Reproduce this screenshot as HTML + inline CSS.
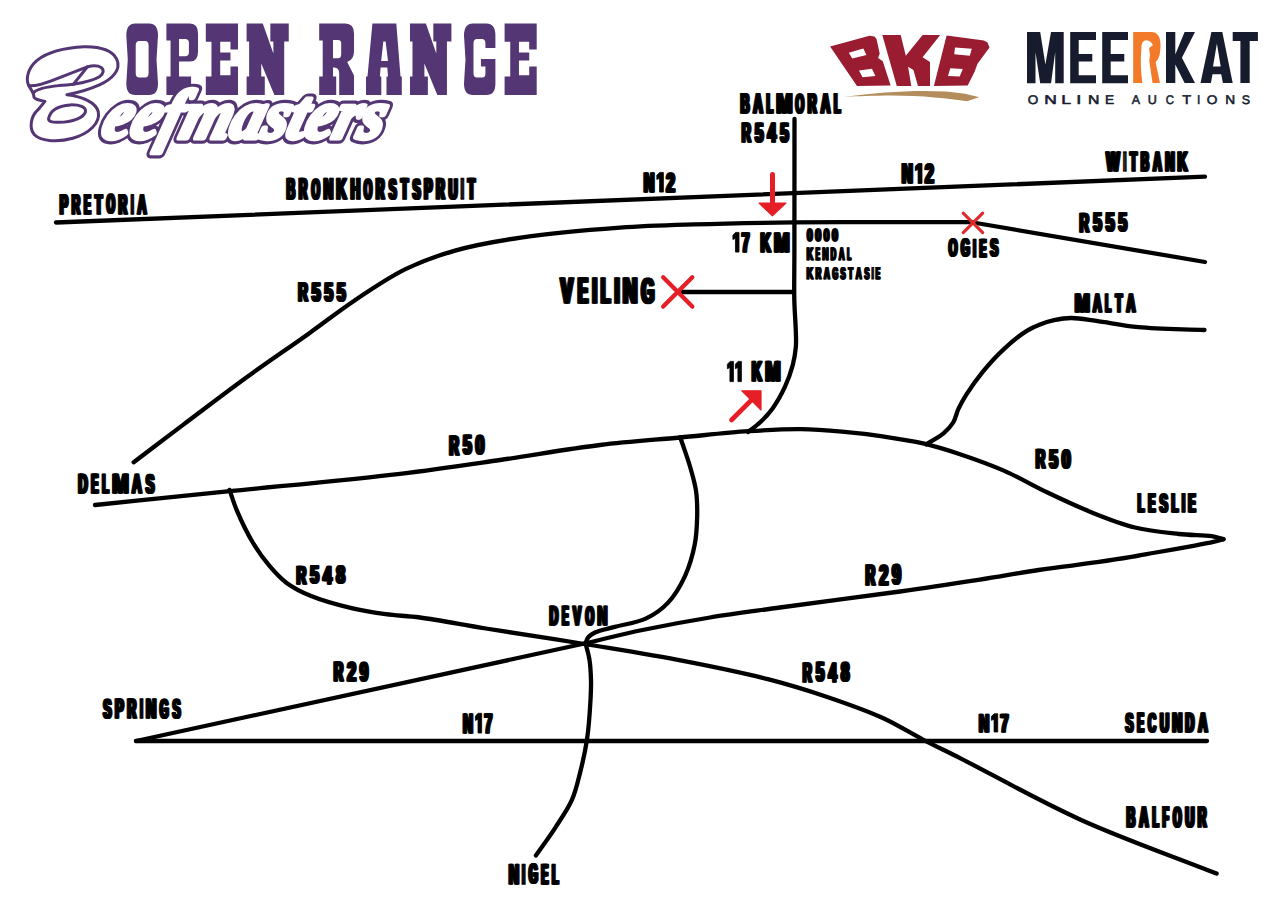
<!DOCTYPE html>
<html><head><meta charset="utf-8"><style>
html,body{margin:0;padding:0;background:#fff;width:1280px;height:905px;overflow:hidden}
svg{display:block}
text{text-rendering:geometricPrecision}
</style></head><body>
<svg width="1280" height="905" viewBox="0 0 1280 905">
<rect width="1280" height="905" fill="#fff"/>
<path fill="#533673" fill-rule="evenodd" transform="translate(126.30,23.50) scale(0.9906,1.0000)" d="M9,0 H23 Q32,0 32,12 L30.5,36 L32,60 Q32,71.5 23,71.5 H9 Q0,71.5 0,60 L1.5,36 L0,12 Q0,0 9,0 Z M13,17.5 H19 Q22.5,17.5 22.5,22 V49.5 Q22.5,54 19,54 H13 Q9.5,54 9.5,49.5 V22 Q9.5,17.5 13,17.5 Z"/>
<path fill="#533673" fill-rule="evenodd" transform="translate(166.40,23.50) scale(0.9875,1.0000)" d="M0,0 H24 Q32,0 32,10 V28 Q32,38 24,38 H12.8 V53 H25 V71.5 H0 V53 H4.2 V17 H0 Z M12.8,15.5 H19 Q22.8,15.5 22.8,19.5 V29 Q22.8,32.7 19,32.7 H12.8 Z"/>
<path fill="#533673" fill-rule="evenodd" transform="translate(205.80,23.50) scale(1.0288,1.0000)" d="M0,0 H31.3 V26 H24 V18.2 H14 V29 H24 V37 H14 V51.7 H24 V43 H31.3 V71.5 H0 V53 H5.5 V18.2 H0 Z"/>
<path fill="#533673" fill-rule="evenodd" transform="translate(246.60,23.50) scale(1.0108,1.0000)" d="M0,0 H16 L26.5,30 V18 H23.5 V0 H41.7 V18 H37.2 V71.5 H27.5 L14.5,40 V53 H18 V71.5 H0 V53 H2.5 V18 H0 Z"/>
<path fill="#533673" fill-rule="evenodd" transform="translate(319.20,23.50) scale(1.0000,1.0000)" d="M0,0 H26 Q34.8,0 34.8,10 V28 Q34.8,36 28,38.5 L34.8,52 V71.5 H20 V50 Q20,44 15,44 H13.8 V53 H17 V71.5 H0 V53 H3.5 V17 H0 Z M13.8,16.4 H19 Q22,16.4 22,20 V31 Q22,34.7 19,34.7 H13.8 Z"/>
<path fill="#533673" fill-rule="evenodd" transform="translate(366.00,23.50) scale(1.0000,1.0000)" d="M6.4,0 H30.3 L34.5,53 H35.8 V71.5 H20.5 V53 H22 L21.3,44 H14.6 L13.9,53 H15.3 V71.5 H0 V53 H1.5 Z M17.3,18 H19.6 L22,37.4 H15.2 Z"/>
<path fill="#533673" fill-rule="evenodd" transform="translate(410.00,23.50) scale(0.9928,1.0000)" d="M0,0 H16 L26.5,30 V18 H23.5 V0 H41.7 V18 H37.2 V71.5 H27.5 L14.5,40 V53 H18 V71.5 H0 V53 H2.5 V18 H0 Z"/>
<path fill="#533673" fill-rule="evenodd" transform="translate(464.00,23.50) scale(0.9968,1.0000)" d="M9,0 H22.5 Q31.5,0 31.5,12 V24.5 H21.5 V20 Q21.5,15.5 18,15.5 H13 Q9.5,15.5 9.5,20 V49.5 Q9.5,54 13,54 H18.5 Q21.5,54 21.5,50 V43 H17 V35.5 H31.5 V60 Q31.5,71.5 22.5,71.5 H9 Q0,71.5 0,60 L1.5,36 L0,12 Q0,0 9,0 Z"/>
<path fill="#533673" fill-rule="evenodd" transform="translate(504.60,23.50) scale(1.0256,1.0000)" d="M0,0 H31.3 V26 H24 V18.2 H14 V29 H24 V37 H14 V51.7 H24 V43 H31.3 V71.5 H0 V53 H5.5 V18.2 H0 Z"/>
<path fill="#fff" stroke="#533673" stroke-width="3.0" stroke-linejoin="round" d="M 28.64,85.50 C 25.74,79.12 27.48,68.68 36.76,60.56 C 47.20,52.44 64.60,47.80 84.32,46.87 C 99.41,46.64 112.17,50.12 116.81,59.40 C 121.45,69.84 112.17,79.12 99.41,84.92 C 88.97,89.56 76.20,93.04 66.92,94.78 C 82.00,96.52 95.93,102.32 98.25,111.61 C 100.57,123.21 88.97,133.65 72.72,138.29 C 58.80,142.35 41.40,141.77 34.44,134.81 C 28.64,127.85 30.96,116.25 37.81,109.98 L 45.00,101.40 C 37.92,100.00 33.86,98.84 33.86,96.52 C 33.86,93.04 30.96,89.56 28.64,85.50 Z"/>
<path fill="none" stroke="#533673" stroke-width="3.0" stroke-linejoin="round" stroke-linecap="round" d="M 73.30,84.34 L 87.23,66.94 C 93.61,65.20 98.25,65.78 101.15,67.52 C 104.05,69.84 104.05,73.32 99.41,76.80 C 93.61,80.28 84.32,82.60 73.30,84.34 Z"/>
<path fill="none" stroke="#533673" stroke-width="3.0" stroke-linejoin="round" stroke-linecap="round" d="M 48.59,118.57 C 50.10,110.45 57.64,105.81 70.40,104.88 C 79.68,104.65 86.06,106.97 85.48,111.61 C 84.32,117.41 72.72,122.05 58.80,122.28 C 51.84,122.51 48.36,121.47 48.59,118.57 Z"/>
<path fill="none" stroke="#533673" stroke-width="3.0" stroke-linejoin="round" stroke-linecap="round" d="M 29.22,85.85 C 35.60,86.08 47.20,82.60 57.06,78.54 C 70.40,73.32 79.68,69.84 87.23,66.94"/>
<path fill="none" stroke="#533673" stroke-width="3.0" stroke-linejoin="round" stroke-linecap="round" d="M 34.21,92.12 C 37.92,88.40 46.04,87.01 58.80,85.62 C 65.76,85.16 70.40,84.69 73.30,84.34"/>
<g transform="translate(0,136) skewX(-16) translate(0,-136)"><text x="100.15" y="138.16" font-size="69.02" textLength="280.87" lengthAdjust="spacingAndGlyphs" font-family='"Liberation Serif", serif' font-weight="bold" font-style="italic" fill="#533673" stroke="#533673" stroke-width="11.5" stroke-linejoin="round">eefmasters</text><text x="100.15" y="138.16" font-size="69.02" textLength="280.87" lengthAdjust="spacingAndGlyphs" font-family='"Liberation Serif", serif' font-weight="bold" font-style="italic" fill="#fff" stroke="#fff" stroke-width="5.1" stroke-linejoin="round">eefmasters</text></g>
<path fill="#991c31" fill-rule="evenodd" d="M830.1,46.4 L869.5,35.8 L874.5,36.5 L876.5,39.0 L879.7,53.4 L878.1,58.1 L882.8,61.3 L890.6,85.5 L857.0,85.9 Z M848.8,52.7 L863.3,48.4 L866.4,55.0 L852.3,58.5 Z M859.0,70.6 L871.9,68.7 L875.4,76.1 L862.5,77.3 Z M882.3,35.1 L900.7,35.1 L905.8,55.8 L922.6,35.1 L940.2,35.1 L922.6,57.3 L930.0,62.0 L930.0,85.9 L918.0,85.9 L913.4,70.0 L908.1,66.7 L911.3,85.9 L896.8,85.9 Z M946.6,35.5 L984.0,40.6 L987.5,42.5 L989.5,47.5 L977.5,63.7 L974.7,71.4 L967.7,85.5 L933.9,85.9 Z M955.0,47.6 L971.8,48.8 L969.8,55.8 L954.2,54.2 Z M950.3,68.3 L962.8,69.0 L959.7,76.5 L948.0,76.1 Z"/>
<path fill="#b48d5c" d="M843,97 C880,92 915,89.8 945,91.5 C962,92.8 973,95.2 979,97.3 L967,101.3 C948,98.5 920,95.2 885,95.6 C865,95.9 852,96.6 843,97 Z"/>
<path fill="#161c2e" fill-rule="evenodd" d="M1027.0,32.0 L1040.2,32.0 L1045.4,64.4 L1051.0,32.0 L1063.7,32.0 L1063.7,83.2 L1055.2,83.2 L1055.2,52.2 L1051.0,83.2 L1040.2,83.2 L1035.5,52.2 L1035.5,83.2 L1027.0,83.2 Z M1070.2,32.0 L1096.0,32.0 L1096.0,40.0 L1078.7,40.0 L1078.7,54.1 L1092.3,54.1 L1092.3,61.6 L1078.7,61.6 L1078.7,75.3 L1096.0,75.3 L1096.0,83.2 L1070.2,83.2 Z M1102.2,32.0 L1128.0,32.0 L1128.0,40.0 L1110.7,40.0 L1110.7,54.1 L1124.3,54.1 L1124.3,61.6 L1110.7,61.6 L1110.7,75.3 L1128.0,75.3 L1128.0,83.2 L1102.2,83.2 Z M1166.0,32.1 L1175.3,32.1 L1175.3,54.5 L1184.6,32.1 L1195.0,32.1 L1181.9,57.8 L1195.0,83.0 L1184.6,83.0 L1175.3,64.4 L1175.3,83.0 L1166.0,83.0 Z M1211.4,32.1 L1222.3,32.1 L1232.7,83.0 L1222.9,83.0 L1221.2,74.2 L1212.5,74.2 L1210.9,83.0 L1200.5,83.0 Z M1216.9,43.6 L1220.7,66.6 L1213.0,66.6 Z M1232.7,32.1 L1257.9,32.1 L1257.9,40.9 L1249.7,40.9 L1249.7,83.0 L1240.4,83.0 L1240.4,40.9 L1232.7,40.9 Z"/>
<path fill="#f27a28" d="M 1133.20,32.11 L 1151.25,32.11 Q 1160.55,32.11 1160.55,45.78 Q 1160.55,57.81 1155.62,62.19 L 1160.00,82.97 L 1151.25,82.97 L 1147.42,65.47 L 1142.50,65.47 L 1142.50,82.97 L 1133.20,82.97 Z"/>
<path fill="#fff" d="M 1141.41,47.97 Q 1141.41,40.31 1146.33,40.31 Q 1151.25,40.86 1152.89,45.23 L 1149.06,47.97 Q 1150.70,54.53 1149.28,61.09 L 1152.56,82.97 L 1142.50,82.97 Q 1139.77,66.56 1141.41,47.97 Z"/>
<text x="1027.67" y="104.20" font-size="12.46" textLength="10.50" lengthAdjust="spacingAndGlyphs" font-family='"Liberation Sans", sans-serif' font-weight="normal" font-style="normal" fill="#161c2e" stroke="#161c2e" stroke-width="0.55" stroke-linejoin="round">O</text>
<text x="1044.28" y="104.32" font-size="12.83" textLength="12.57" lengthAdjust="spacingAndGlyphs" font-family='"Liberation Sans", sans-serif' font-weight="normal" font-style="normal" fill="#161c2e" stroke="#161c2e" stroke-width="0.55" stroke-linejoin="round">N</text>
<text x="1061.16" y="104.32" font-size="12.83" textLength="9.81" lengthAdjust="spacingAndGlyphs" font-family='"Liberation Sans", sans-serif' font-weight="normal" font-style="normal" fill="#161c2e" stroke="#161c2e" stroke-width="0.55" stroke-linejoin="round">L</text>
<text x="1076.32" y="104.32" font-size="12.83" textLength="5.12" lengthAdjust="spacingAndGlyphs" font-family='"Liberation Sans", sans-serif' font-weight="normal" font-style="normal" fill="#161c2e" stroke="#161c2e" stroke-width="0.55" stroke-linejoin="round">I</text>
<text x="1088.01" y="104.32" font-size="12.83" textLength="11.41" lengthAdjust="spacingAndGlyphs" font-family='"Liberation Sans", sans-serif' font-weight="normal" font-style="normal" fill="#161c2e" stroke="#161c2e" stroke-width="0.55" stroke-linejoin="round">N</text>
<text x="1105.08" y="104.32" font-size="12.83" textLength="9.12" lengthAdjust="spacingAndGlyphs" font-family='"Liberation Sans", sans-serif' font-weight="normal" font-style="normal" fill="#161c2e" stroke="#161c2e" stroke-width="0.55" stroke-linejoin="round">E</text>
<text x="1131.81" y="104.32" font-size="12.83" textLength="8.24" lengthAdjust="spacingAndGlyphs" font-family='"Liberation Sans", sans-serif' font-weight="normal" font-style="normal" fill="#161c2e" stroke="#161c2e" stroke-width="0.55" stroke-linejoin="round">A</text>
<text x="1147.83" y="104.20" font-size="12.64" textLength="9.06" lengthAdjust="spacingAndGlyphs" font-family='"Liberation Sans", sans-serif' font-weight="normal" font-style="normal" fill="#161c2e" stroke="#161c2e" stroke-width="0.55" stroke-linejoin="round">U</text>
<text x="1165.71" y="104.20" font-size="12.46" textLength="8.20" lengthAdjust="spacingAndGlyphs" font-family='"Liberation Sans", sans-serif' font-weight="normal" font-style="normal" fill="#161c2e" stroke="#161c2e" stroke-width="0.55" stroke-linejoin="round">C</text>
<text x="1182.31" y="104.32" font-size="12.83" textLength="8.92" lengthAdjust="spacingAndGlyphs" font-family='"Liberation Sans", sans-serif' font-weight="normal" font-style="normal" fill="#161c2e" stroke="#161c2e" stroke-width="0.55" stroke-linejoin="round">T</text>
<text x="1196.89" y="104.32" font-size="12.83" textLength="3.36" lengthAdjust="spacingAndGlyphs" font-family='"Liberation Sans", sans-serif' font-weight="normal" font-style="normal" fill="#161c2e" stroke="#161c2e" stroke-width="0.55" stroke-linejoin="round">I</text>
<text x="1206.66" y="104.20" font-size="12.46" textLength="10.62" lengthAdjust="spacingAndGlyphs" font-family='"Liberation Sans", sans-serif' font-weight="normal" font-style="normal" fill="#161c2e" stroke="#161c2e" stroke-width="0.55" stroke-linejoin="round">O</text>
<text x="1225.38" y="104.32" font-size="12.83" textLength="9.87" lengthAdjust="spacingAndGlyphs" font-family='"Liberation Sans", sans-serif' font-weight="normal" font-style="normal" fill="#161c2e" stroke="#161c2e" stroke-width="0.55" stroke-linejoin="round">N</text>
<text x="1241.72" y="104.20" font-size="12.46" textLength="8.29" lengthAdjust="spacingAndGlyphs" font-family='"Liberation Sans", sans-serif' font-weight="normal" font-style="normal" fill="#161c2e" stroke="#161c2e" stroke-width="0.55" stroke-linejoin="round">S</text>
<path d="M56,222.5 L1205,176.7" fill="none" stroke="#000" stroke-width="4.3" stroke-linecap="round" stroke-linejoin="round"/>
<path d="M133.7,462.3 C150.1,449.8 165.5,438.1 183.0,424.9 C202.7,410.1 224.9,393.0 246.0,377.7 C266.9,362.5 289.7,347.2 309.0,333.4 C325.6,321.6 339.1,310.8 355.0,300.2 C371.1,289.4 387.9,277.8 405.0,269.4 C421.3,261.4 436.9,255.8 455.0,250.6 C475.6,244.7 497.8,240.9 522.5,237.3 C551.9,232.9 589.7,229.8 620.0,227.6 C646.3,225.7 667.3,225.2 693.8,224.4 C724.5,223.4 759.0,222.8 793.8,222.4 C831.6,222.0 879.7,222.2 912.5,222.2 C935.7,222.2 952.2,222.2 972.0,222.2" fill="none" stroke="#000" stroke-width="4.3" stroke-linecap="round" stroke-linejoin="round"/>
<path d="M973,222.5 L1205,262" fill="none" stroke="#000" stroke-width="4.3" stroke-linecap="round" stroke-linejoin="round"/>
<path d="M794.5,119.0 C794.5,162.7 794.4,216.6 794.4,250.0 C794.4,270.6 794.0,285.3 794.3,300.0 C794.6,311.6 795.6,322.5 795.8,331.0 C796.0,337.0 796.3,341.0 795.9,346.4 C795.4,352.3 794.4,358.6 792.8,365.0 C790.9,372.0 788.3,379.6 785.0,386.7 C781.6,394.1 777.1,402.2 772.6,408.4 C768.7,413.8 764.5,418.2 760.2,422.3 C756.3,426.0 752.1,428.8 748.0,432.0" fill="none" stroke="#000" stroke-width="4.3" stroke-linecap="round" stroke-linejoin="round"/>
<path d="M680,292 L794,292" fill="none" stroke="#000" stroke-width="4.3" stroke-linecap="round" stroke-linejoin="round"/>
<path d="M95.0,505.0 C140.0,500.4 182.4,496.1 230.0,491.2 C283.4,485.8 350.9,479.7 400.0,473.8 C437.8,469.2 466.7,464.8 500.0,460.0 C533.3,455.2 568.5,448.8 600.0,445.0 C628.1,441.6 654.4,439.9 680.0,437.5 C703.7,435.3 727.1,432.6 748.4,431.2 C767.1,430.0 784.8,429.0 801.2,429.2 C815.7,429.4 828.4,430.5 841.9,431.7 C855.5,432.9 869.0,434.4 882.5,436.3 C896.1,438.3 910.0,440.3 923.1,443.4 C935.8,446.4 947.3,450.0 960.0,454.2 C974.0,458.9 989.3,464.3 1003.8,470.6 C1018.5,477.0 1032.8,485.5 1047.5,492.5 C1062.0,499.4 1076.5,506.3 1091.2,512.2 C1105.7,518.0 1120.2,523.9 1135.0,527.5 C1149.4,531.1 1165.2,532.5 1178.8,534.0 C1190.5,535.3 1203.4,535.0 1211.6,536.2 C1216.6,537.0 1219.5,538.1 1223.5,539.0" fill="none" stroke="#000" stroke-width="4.3" stroke-linecap="round" stroke-linejoin="round"/>
<path d="M1223.5,539.3 C1220.5,540.1 1218.0,540.9 1214.4,541.7 C1209.1,542.9 1202.5,544.2 1194.8,545.6 C1184.0,547.6 1167.5,550.4 1155.8,552.5 C1146.3,554.2 1139.1,555.7 1130.0,557.2 C1119.7,558.9 1109.7,560.4 1097.2,562.2 C1080.5,564.6 1058.1,567.1 1038.6,570.0 C1019.0,572.9 1001.1,576.3 980.0,579.6 C955.4,583.4 929.4,587.4 900.0,591.5 C864.1,596.6 814.6,602.7 780.0,607.5 C753.5,611.2 733.1,613.7 710.0,617.5 C687.3,621.2 664.1,625.5 642.5,630.0 C622.4,634.2 603.8,639.0 584.5,643.5" fill="none" stroke="#000" stroke-width="4.3" stroke-linecap="round" stroke-linejoin="round"/>
<path d="M584.5,643.5 L136,741" fill="none" stroke="#000" stroke-width="4.3" stroke-linecap="round" stroke-linejoin="round"/>
<path d="M229.6,489.9 C231.9,496.5 233.5,502.4 236.6,509.8 C240.7,519.6 247.2,533.1 253.1,543.0 C258.3,551.7 263.9,559.3 269.7,566.2 C275.0,572.4 279.8,577.9 286.3,582.7 C293.4,588.0 301.5,592.1 311.1,596.0 C323.0,600.9 339.5,605.3 352.6,608.4 C364.2,611.1 374.5,612.7 385.7,614.2 C397.0,615.7 406.8,615.8 420.0,617.5 C438.4,619.9 461.7,624.6 485.9,628.5 C515.5,633.3 551.5,638.6 584.5,644.0 C617.7,649.5 652.6,654.9 684.4,661.1 C713.8,666.8 743.6,672.9 768.8,679.4 C789.5,684.8 806.4,690.0 825.0,696.2 C843.9,702.6 864.1,709.5 881.2,717.3 C896.6,724.2 909.8,732.8 923.4,739.8 C936.0,746.3 944.3,750.2 960.0,758.1 C988.6,772.5 1038.7,800.8 1080.6,819.7 C1124.1,839.4 1171.3,855.6 1216.6,873.6" fill="none" stroke="#000" stroke-width="4.3" stroke-linecap="round" stroke-linejoin="round"/>
<path d="M136,741 L1207,741" fill="none" stroke="#000" stroke-width="4.3" stroke-linecap="round" stroke-linejoin="round"/>
<path d="M680.2,437.3 C683.5,447.0 687.3,457.2 690.0,466.5 C692.4,474.9 694.8,482.6 696.0,490.8 C697.2,498.8 697.3,506.6 697.2,515.1 C697.0,524.4 696.7,534.4 694.8,544.2 C692.8,554.6 689.6,566.0 685.1,575.8 C680.7,585.4 674.9,595.3 668.1,602.6 C661.8,609.3 654.6,614.4 646.2,618.4 C637.0,622.8 623.9,624.3 614.6,626.9 C607.3,628.9 599.7,630.3 595.0,632.5 C592.1,633.9 590.1,635.2 588.5,637.0 C587.0,638.7 586.5,641.0 585.5,643.0" fill="none" stroke="#000" stroke-width="4.3" stroke-linecap="round" stroke-linejoin="round"/>
<path d="M585.5,643.0 C586.8,648.7 588.6,654.1 589.5,660.0 C590.5,666.4 590.8,673.3 591.0,680.0 C591.2,686.7 590.9,692.2 590.5,700.0 C589.9,710.9 588.9,726.9 587.0,739.4 C585.3,751.0 582.8,762.1 580.1,772.6 C577.6,782.3 575.8,791.2 571.8,800.2 C567.6,809.7 561.1,818.7 555.2,827.8 C549.2,837.1 542.3,846.2 535.9,855.4" fill="none" stroke="#000" stroke-width="4.3" stroke-linecap="round" stroke-linejoin="round"/>
<path d="M926.2,444.4 C932.1,440.7 939.0,437.3 943.8,433.2 C947.8,429.7 951.1,426.1 953.5,422.0 C955.8,418.1 956.3,413.5 958.3,409.2 C960.5,404.4 963.0,400.0 966.3,394.7 C970.6,387.9 976.2,379.7 982.3,372.3 C988.9,364.2 996.9,355.4 1004.7,348.3 C1011.9,341.6 1020.5,334.7 1027.2,330.6 C1031.9,327.7 1035.6,326.2 1040.0,324.5 C1044.5,322.7 1049.1,321.3 1054.1,320.2 C1059.4,319.1 1064.7,318.1 1070.9,318.0 C1078.5,317.9 1086.7,319.6 1096.2,320.9 C1108.5,322.5 1122.7,325.7 1138.4,327.2 C1157.9,329.1 1182.5,329.1 1204.5,330.0" fill="none" stroke="#000" stroke-width="4.3" stroke-linecap="round" stroke-linejoin="round"/>
<g transform="translate(-1.09,0)"><text x="59.85" y="213.70" font-size="27.75" textLength="8.10" lengthAdjust="spacingAndGlyphs" font-family='"Liberation Sans", sans-serif' font-weight="bold" font-style="normal" fill="#000" stroke="#000" stroke-width="1.6" stroke-linejoin="round">P</text></g><text x="59.85" y="213.70" font-size="27.75" textLength="8.10" lengthAdjust="spacingAndGlyphs" font-family='"Liberation Sans", sans-serif' font-weight="bold" font-style="normal" fill="#000" stroke="#000" stroke-width="1.6" stroke-linejoin="round">P</text><g transform="translate(1.09,0)"><text x="59.85" y="213.70" font-size="27.75" textLength="8.10" lengthAdjust="spacingAndGlyphs" font-family='"Liberation Sans", sans-serif' font-weight="bold" font-style="normal" fill="#000" stroke="#000" stroke-width="1.6" stroke-linejoin="round">P</text></g><g transform="translate(-1.09,0)"><text x="71.73" y="213.70" font-size="27.75" textLength="8.40" lengthAdjust="spacingAndGlyphs" font-family='"Liberation Sans", sans-serif' font-weight="bold" font-style="normal" fill="#000" stroke="#000" stroke-width="1.6" stroke-linejoin="round">R</text></g><text x="71.73" y="213.70" font-size="27.75" textLength="8.40" lengthAdjust="spacingAndGlyphs" font-family='"Liberation Sans", sans-serif' font-weight="bold" font-style="normal" fill="#000" stroke="#000" stroke-width="1.6" stroke-linejoin="round">R</text><g transform="translate(1.09,0)"><text x="71.73" y="213.70" font-size="27.75" textLength="8.40" lengthAdjust="spacingAndGlyphs" font-family='"Liberation Sans", sans-serif' font-weight="bold" font-style="normal" fill="#000" stroke="#000" stroke-width="1.6" stroke-linejoin="round">R</text></g><g transform="translate(-1.09,0)"><text x="84.17" y="213.70" font-size="27.75" textLength="6.52" lengthAdjust="spacingAndGlyphs" font-family='"Liberation Sans", sans-serif' font-weight="bold" font-style="normal" fill="#000" stroke="#000" stroke-width="1.6" stroke-linejoin="round">E</text></g><text x="84.17" y="213.70" font-size="27.75" textLength="6.52" lengthAdjust="spacingAndGlyphs" font-family='"Liberation Sans", sans-serif' font-weight="bold" font-style="normal" fill="#000" stroke="#000" stroke-width="1.6" stroke-linejoin="round">E</text><g transform="translate(1.09,0)"><text x="84.17" y="213.70" font-size="27.75" textLength="6.52" lengthAdjust="spacingAndGlyphs" font-family='"Liberation Sans", sans-serif' font-weight="bold" font-style="normal" fill="#000" stroke="#000" stroke-width="1.6" stroke-linejoin="round">E</text></g><g transform="translate(-1.09,0)"><text x="95.15" y="213.70" font-size="27.75" textLength="7.16" lengthAdjust="spacingAndGlyphs" font-family='"Liberation Sans", sans-serif' font-weight="bold" font-style="normal" fill="#000" stroke="#000" stroke-width="1.6" stroke-linejoin="round">T</text></g><text x="95.15" y="213.70" font-size="27.75" textLength="7.16" lengthAdjust="spacingAndGlyphs" font-family='"Liberation Sans", sans-serif' font-weight="bold" font-style="normal" fill="#000" stroke="#000" stroke-width="1.6" stroke-linejoin="round">T</text><g transform="translate(1.09,0)"><text x="95.15" y="213.70" font-size="27.75" textLength="7.16" lengthAdjust="spacingAndGlyphs" font-family='"Liberation Sans", sans-serif' font-weight="bold" font-style="normal" fill="#000" stroke="#000" stroke-width="1.6" stroke-linejoin="round">T</text></g><g transform="translate(-1.09,0)"><text x="106.70" y="213.43" font-size="26.97" textLength="8.26" lengthAdjust="spacingAndGlyphs" font-family='"Liberation Sans", sans-serif' font-weight="bold" font-style="normal" fill="#000" stroke="#000" stroke-width="1.6" stroke-linejoin="round">O</text></g><text x="106.70" y="213.43" font-size="26.97" textLength="8.26" lengthAdjust="spacingAndGlyphs" font-family='"Liberation Sans", sans-serif' font-weight="bold" font-style="normal" fill="#000" stroke="#000" stroke-width="1.6" stroke-linejoin="round">O</text><g transform="translate(1.09,0)"><text x="106.70" y="213.43" font-size="26.97" textLength="8.26" lengthAdjust="spacingAndGlyphs" font-family='"Liberation Sans", sans-serif' font-weight="bold" font-style="normal" fill="#000" stroke="#000" stroke-width="1.6" stroke-linejoin="round">O</text></g><g transform="translate(-1.09,0)"><text x="118.68" y="213.70" font-size="27.75" textLength="8.40" lengthAdjust="spacingAndGlyphs" font-family='"Liberation Sans", sans-serif' font-weight="bold" font-style="normal" fill="#000" stroke="#000" stroke-width="1.6" stroke-linejoin="round">R</text></g><text x="118.68" y="213.70" font-size="27.75" textLength="8.40" lengthAdjust="spacingAndGlyphs" font-family='"Liberation Sans", sans-serif' font-weight="bold" font-style="normal" fill="#000" stroke="#000" stroke-width="1.6" stroke-linejoin="round">R</text><g transform="translate(1.09,0)"><text x="118.68" y="213.70" font-size="27.75" textLength="8.40" lengthAdjust="spacingAndGlyphs" font-family='"Liberation Sans", sans-serif' font-weight="bold" font-style="normal" fill="#000" stroke="#000" stroke-width="1.6" stroke-linejoin="round">R</text></g><g transform="translate(-1.09,0)"><text x="131.26" y="213.70" font-size="27.75" textLength="2.12" lengthAdjust="spacingAndGlyphs" font-family='"Liberation Sans", sans-serif' font-weight="bold" font-style="normal" fill="#000" stroke="#000" stroke-width="1.6" stroke-linejoin="round">I</text></g><text x="131.26" y="213.70" font-size="27.75" textLength="2.12" lengthAdjust="spacingAndGlyphs" font-family='"Liberation Sans", sans-serif' font-weight="bold" font-style="normal" fill="#000" stroke="#000" stroke-width="1.6" stroke-linejoin="round">I</text><g transform="translate(1.09,0)"><text x="131.26" y="213.70" font-size="27.75" textLength="2.12" lengthAdjust="spacingAndGlyphs" font-family='"Liberation Sans", sans-serif' font-weight="bold" font-style="normal" fill="#000" stroke="#000" stroke-width="1.6" stroke-linejoin="round">I</text></g><g transform="translate(-1.09,0)"><text x="137.49" y="213.70" font-size="27.75" textLength="8.96" lengthAdjust="spacingAndGlyphs" font-family='"Liberation Sans", sans-serif' font-weight="bold" font-style="normal" fill="#000" stroke="#000" stroke-width="1.6" stroke-linejoin="round">A</text></g><text x="137.49" y="213.70" font-size="27.75" textLength="8.96" lengthAdjust="spacingAndGlyphs" font-family='"Liberation Sans", sans-serif' font-weight="bold" font-style="normal" fill="#000" stroke="#000" stroke-width="1.6" stroke-linejoin="round">A</text><g transform="translate(1.09,0)"><text x="137.49" y="213.70" font-size="27.75" textLength="8.96" lengthAdjust="spacingAndGlyphs" font-family='"Liberation Sans", sans-serif' font-weight="bold" font-style="normal" fill="#000" stroke="#000" stroke-width="1.6" stroke-linejoin="round">A</text></g>
<g transform="translate(-1.15,0)"><text x="286.69" y="199.20" font-size="29.57" textLength="8.42" lengthAdjust="spacingAndGlyphs" font-family='"Liberation Sans", sans-serif' font-weight="bold" font-style="normal" fill="#000" stroke="#000" stroke-width="1.6" stroke-linejoin="round">B</text></g><text x="286.69" y="199.20" font-size="29.57" textLength="8.42" lengthAdjust="spacingAndGlyphs" font-family='"Liberation Sans", sans-serif' font-weight="bold" font-style="normal" fill="#000" stroke="#000" stroke-width="1.6" stroke-linejoin="round">B</text><g transform="translate(1.15,0)"><text x="286.69" y="199.20" font-size="29.57" textLength="8.42" lengthAdjust="spacingAndGlyphs" font-family='"Liberation Sans", sans-serif' font-weight="bold" font-style="normal" fill="#000" stroke="#000" stroke-width="1.6" stroke-linejoin="round">B</text></g><g transform="translate(-1.15,0)"><text x="298.89" y="199.20" font-size="29.57" textLength="8.35" lengthAdjust="spacingAndGlyphs" font-family='"Liberation Sans", sans-serif' font-weight="bold" font-style="normal" fill="#000" stroke="#000" stroke-width="1.6" stroke-linejoin="round">R</text></g><text x="298.89" y="199.20" font-size="29.57" textLength="8.35" lengthAdjust="spacingAndGlyphs" font-family='"Liberation Sans", sans-serif' font-weight="bold" font-style="normal" fill="#000" stroke="#000" stroke-width="1.6" stroke-linejoin="round">R</text><g transform="translate(1.15,0)"><text x="298.89" y="199.20" font-size="29.57" textLength="8.35" lengthAdjust="spacingAndGlyphs" font-family='"Liberation Sans", sans-serif' font-weight="bold" font-style="normal" fill="#000" stroke="#000" stroke-width="1.6" stroke-linejoin="round">R</text></g><g transform="translate(-1.15,0)"><text x="311.64" y="198.91" font-size="28.73" textLength="8.22" lengthAdjust="spacingAndGlyphs" font-family='"Liberation Sans", sans-serif' font-weight="bold" font-style="normal" fill="#000" stroke="#000" stroke-width="1.6" stroke-linejoin="round">O</text></g><text x="311.64" y="198.91" font-size="28.73" textLength="8.22" lengthAdjust="spacingAndGlyphs" font-family='"Liberation Sans", sans-serif' font-weight="bold" font-style="normal" fill="#000" stroke="#000" stroke-width="1.6" stroke-linejoin="round">O</text><g transform="translate(1.15,0)"><text x="311.64" y="198.91" font-size="28.73" textLength="8.22" lengthAdjust="spacingAndGlyphs" font-family='"Liberation Sans", sans-serif' font-weight="bold" font-style="normal" fill="#000" stroke="#000" stroke-width="1.6" stroke-linejoin="round">O</text></g><g transform="translate(-1.15,0)"><text x="323.62" y="199.20" font-size="29.57" textLength="9.56" lengthAdjust="spacingAndGlyphs" font-family='"Liberation Sans", sans-serif' font-weight="bold" font-style="normal" fill="#000" stroke="#000" stroke-width="1.6" stroke-linejoin="round">N</text></g><text x="323.62" y="199.20" font-size="29.57" textLength="9.56" lengthAdjust="spacingAndGlyphs" font-family='"Liberation Sans", sans-serif' font-weight="bold" font-style="normal" fill="#000" stroke="#000" stroke-width="1.6" stroke-linejoin="round">N</text><g transform="translate(1.15,0)"><text x="323.62" y="199.20" font-size="29.57" textLength="9.56" lengthAdjust="spacingAndGlyphs" font-family='"Liberation Sans", sans-serif' font-weight="bold" font-style="normal" fill="#000" stroke="#000" stroke-width="1.6" stroke-linejoin="round">N</text></g><g transform="translate(-1.15,0)"><text x="336.47" y="199.20" font-size="29.57" textLength="10.06" lengthAdjust="spacingAndGlyphs" font-family='"Liberation Sans", sans-serif' font-weight="bold" font-style="normal" fill="#000" stroke="#000" stroke-width="1.6" stroke-linejoin="round">K</text></g><text x="336.47" y="199.20" font-size="29.57" textLength="10.06" lengthAdjust="spacingAndGlyphs" font-family='"Liberation Sans", sans-serif' font-weight="bold" font-style="normal" fill="#000" stroke="#000" stroke-width="1.6" stroke-linejoin="round">K</text><g transform="translate(1.15,0)"><text x="336.47" y="199.20" font-size="29.57" textLength="10.06" lengthAdjust="spacingAndGlyphs" font-family='"Liberation Sans", sans-serif' font-weight="bold" font-style="normal" fill="#000" stroke="#000" stroke-width="1.6" stroke-linejoin="round">K</text></g><g transform="translate(-1.15,0)"><text x="350.58" y="199.20" font-size="29.57" textLength="9.56" lengthAdjust="spacingAndGlyphs" font-family='"Liberation Sans", sans-serif' font-weight="bold" font-style="normal" fill="#000" stroke="#000" stroke-width="1.6" stroke-linejoin="round">H</text></g><text x="350.58" y="199.20" font-size="29.57" textLength="9.56" lengthAdjust="spacingAndGlyphs" font-family='"Liberation Sans", sans-serif' font-weight="bold" font-style="normal" fill="#000" stroke="#000" stroke-width="1.6" stroke-linejoin="round">H</text><g transform="translate(1.15,0)"><text x="350.58" y="199.20" font-size="29.57" textLength="9.56" lengthAdjust="spacingAndGlyphs" font-family='"Liberation Sans", sans-serif' font-weight="bold" font-style="normal" fill="#000" stroke="#000" stroke-width="1.6" stroke-linejoin="round">H</text></g><g transform="translate(-1.15,0)"><text x="363.90" y="198.91" font-size="28.73" textLength="8.22" lengthAdjust="spacingAndGlyphs" font-family='"Liberation Sans", sans-serif' font-weight="bold" font-style="normal" fill="#000" stroke="#000" stroke-width="1.6" stroke-linejoin="round">O</text></g><text x="363.90" y="198.91" font-size="28.73" textLength="8.22" lengthAdjust="spacingAndGlyphs" font-family='"Liberation Sans", sans-serif' font-weight="bold" font-style="normal" fill="#000" stroke="#000" stroke-width="1.6" stroke-linejoin="round">O</text><g transform="translate(1.15,0)"><text x="363.90" y="198.91" font-size="28.73" textLength="8.22" lengthAdjust="spacingAndGlyphs" font-family='"Liberation Sans", sans-serif' font-weight="bold" font-style="normal" fill="#000" stroke="#000" stroke-width="1.6" stroke-linejoin="round">O</text></g><g transform="translate(-1.15,0)"><text x="376.00" y="199.20" font-size="29.57" textLength="8.35" lengthAdjust="spacingAndGlyphs" font-family='"Liberation Sans", sans-serif' font-weight="bold" font-style="normal" fill="#000" stroke="#000" stroke-width="1.6" stroke-linejoin="round">R</text></g><text x="376.00" y="199.20" font-size="29.57" textLength="8.35" lengthAdjust="spacingAndGlyphs" font-family='"Liberation Sans", sans-serif' font-weight="bold" font-style="normal" fill="#000" stroke="#000" stroke-width="1.6" stroke-linejoin="round">R</text><g transform="translate(1.15,0)"><text x="376.00" y="199.20" font-size="29.57" textLength="8.35" lengthAdjust="spacingAndGlyphs" font-family='"Liberation Sans", sans-serif' font-weight="bold" font-style="normal" fill="#000" stroke="#000" stroke-width="1.6" stroke-linejoin="round">R</text></g><g transform="translate(-1.15,0)"><text x="388.83" y="198.91" font-size="28.73" textLength="7.64" lengthAdjust="spacingAndGlyphs" font-family='"Liberation Sans", sans-serif' font-weight="bold" font-style="normal" fill="#000" stroke="#000" stroke-width="1.6" stroke-linejoin="round">S</text></g><text x="388.83" y="198.91" font-size="28.73" textLength="7.64" lengthAdjust="spacingAndGlyphs" font-family='"Liberation Sans", sans-serif' font-weight="bold" font-style="normal" fill="#000" stroke="#000" stroke-width="1.6" stroke-linejoin="round">S</text><g transform="translate(1.15,0)"><text x="388.83" y="198.91" font-size="28.73" textLength="7.64" lengthAdjust="spacingAndGlyphs" font-family='"Liberation Sans", sans-serif' font-weight="bold" font-style="normal" fill="#000" stroke="#000" stroke-width="1.6" stroke-linejoin="round">S</text></g><g transform="translate(-1.15,0)"><text x="401.01" y="199.20" font-size="29.57" textLength="7.12" lengthAdjust="spacingAndGlyphs" font-family='"Liberation Sans", sans-serif' font-weight="bold" font-style="normal" fill="#000" stroke="#000" stroke-width="1.6" stroke-linejoin="round">T</text></g><text x="401.01" y="199.20" font-size="29.57" textLength="7.12" lengthAdjust="spacingAndGlyphs" font-family='"Liberation Sans", sans-serif' font-weight="bold" font-style="normal" fill="#000" stroke="#000" stroke-width="1.6" stroke-linejoin="round">T</text><g transform="translate(1.15,0)"><text x="401.01" y="199.20" font-size="29.57" textLength="7.12" lengthAdjust="spacingAndGlyphs" font-family='"Liberation Sans", sans-serif' font-weight="bold" font-style="normal" fill="#000" stroke="#000" stroke-width="1.6" stroke-linejoin="round">T</text></g><g transform="translate(-1.15,0)"><text x="412.73" y="198.91" font-size="28.73" textLength="7.64" lengthAdjust="spacingAndGlyphs" font-family='"Liberation Sans", sans-serif' font-weight="bold" font-style="normal" fill="#000" stroke="#000" stroke-width="1.6" stroke-linejoin="round">S</text></g><text x="412.73" y="198.91" font-size="28.73" textLength="7.64" lengthAdjust="spacingAndGlyphs" font-family='"Liberation Sans", sans-serif' font-weight="bold" font-style="normal" fill="#000" stroke="#000" stroke-width="1.6" stroke-linejoin="round">S</text><g transform="translate(1.15,0)"><text x="412.73" y="198.91" font-size="28.73" textLength="7.64" lengthAdjust="spacingAndGlyphs" font-family='"Liberation Sans", sans-serif' font-weight="bold" font-style="normal" fill="#000" stroke="#000" stroke-width="1.6" stroke-linejoin="round">S</text></g><g transform="translate(-1.15,0)"><text x="424.25" y="199.20" font-size="29.57" textLength="8.05" lengthAdjust="spacingAndGlyphs" font-family='"Liberation Sans", sans-serif' font-weight="bold" font-style="normal" fill="#000" stroke="#000" stroke-width="1.6" stroke-linejoin="round">P</text></g><text x="424.25" y="199.20" font-size="29.57" textLength="8.05" lengthAdjust="spacingAndGlyphs" font-family='"Liberation Sans", sans-serif' font-weight="bold" font-style="normal" fill="#000" stroke="#000" stroke-width="1.6" stroke-linejoin="round">P</text><g transform="translate(1.15,0)"><text x="424.25" y="199.20" font-size="29.57" textLength="8.05" lengthAdjust="spacingAndGlyphs" font-family='"Liberation Sans", sans-serif' font-weight="bold" font-style="normal" fill="#000" stroke="#000" stroke-width="1.6" stroke-linejoin="round">P</text></g><g transform="translate(-1.15,0)"><text x="436.23" y="199.20" font-size="29.57" textLength="8.35" lengthAdjust="spacingAndGlyphs" font-family='"Liberation Sans", sans-serif' font-weight="bold" font-style="normal" fill="#000" stroke="#000" stroke-width="1.6" stroke-linejoin="round">R</text></g><text x="436.23" y="199.20" font-size="29.57" textLength="8.35" lengthAdjust="spacingAndGlyphs" font-family='"Liberation Sans", sans-serif' font-weight="bold" font-style="normal" fill="#000" stroke="#000" stroke-width="1.6" stroke-linejoin="round">R</text><g transform="translate(1.15,0)"><text x="436.23" y="199.20" font-size="29.57" textLength="8.35" lengthAdjust="spacingAndGlyphs" font-family='"Liberation Sans", sans-serif' font-weight="bold" font-style="normal" fill="#000" stroke="#000" stroke-width="1.6" stroke-linejoin="round">R</text></g><g transform="translate(-1.15,0)"><text x="448.67" y="198.91" font-size="29.14" textLength="8.84" lengthAdjust="spacingAndGlyphs" font-family='"Liberation Sans", sans-serif' font-weight="bold" font-style="normal" fill="#000" stroke="#000" stroke-width="1.6" stroke-linejoin="round">U</text></g><text x="448.67" y="198.91" font-size="29.14" textLength="8.84" lengthAdjust="spacingAndGlyphs" font-family='"Liberation Sans", sans-serif' font-weight="bold" font-style="normal" fill="#000" stroke="#000" stroke-width="1.6" stroke-linejoin="round">U</text><g transform="translate(1.15,0)"><text x="448.67" y="198.91" font-size="29.14" textLength="8.84" lengthAdjust="spacingAndGlyphs" font-family='"Liberation Sans", sans-serif' font-weight="bold" font-style="normal" fill="#000" stroke="#000" stroke-width="1.6" stroke-linejoin="round">U</text></g><g transform="translate(-1.15,0)"><text x="461.37" y="199.20" font-size="29.57" textLength="1.95" lengthAdjust="spacingAndGlyphs" font-family='"Liberation Sans", sans-serif' font-weight="bold" font-style="normal" fill="#000" stroke="#000" stroke-width="1.6" stroke-linejoin="round">I</text></g><text x="461.37" y="199.20" font-size="29.57" textLength="1.95" lengthAdjust="spacingAndGlyphs" font-family='"Liberation Sans", sans-serif' font-weight="bold" font-style="normal" fill="#000" stroke="#000" stroke-width="1.6" stroke-linejoin="round">I</text><g transform="translate(1.15,0)"><text x="461.37" y="199.20" font-size="29.57" textLength="1.95" lengthAdjust="spacingAndGlyphs" font-family='"Liberation Sans", sans-serif' font-weight="bold" font-style="normal" fill="#000" stroke="#000" stroke-width="1.6" stroke-linejoin="round">I</text></g><g transform="translate(-1.15,0)"><text x="467.80" y="199.20" font-size="29.57" textLength="7.12" lengthAdjust="spacingAndGlyphs" font-family='"Liberation Sans", sans-serif' font-weight="bold" font-style="normal" fill="#000" stroke="#000" stroke-width="1.6" stroke-linejoin="round">T</text></g><text x="467.80" y="199.20" font-size="29.57" textLength="7.12" lengthAdjust="spacingAndGlyphs" font-family='"Liberation Sans", sans-serif' font-weight="bold" font-style="normal" fill="#000" stroke="#000" stroke-width="1.6" stroke-linejoin="round">T</text><g transform="translate(1.15,0)"><text x="467.80" y="199.20" font-size="29.57" textLength="7.12" lengthAdjust="spacingAndGlyphs" font-family='"Liberation Sans", sans-serif' font-weight="bold" font-style="normal" fill="#000" stroke="#000" stroke-width="1.6" stroke-linejoin="round">T</text></g>
<g transform="translate(-1.07,0)"><text x="643.94" y="191.70" font-size="27.39" textLength="10.37" lengthAdjust="spacingAndGlyphs" font-family='"Liberation Sans", sans-serif' font-weight="bold" font-style="normal" fill="#000" stroke="#000" stroke-width="1.6" stroke-linejoin="round">N</text></g><text x="643.94" y="191.70" font-size="27.39" textLength="10.37" lengthAdjust="spacingAndGlyphs" font-family='"Liberation Sans", sans-serif' font-weight="bold" font-style="normal" fill="#000" stroke="#000" stroke-width="1.6" stroke-linejoin="round">N</text><g transform="translate(1.07,0)"><text x="643.94" y="191.70" font-size="27.39" textLength="10.37" lengthAdjust="spacingAndGlyphs" font-family='"Liberation Sans", sans-serif' font-weight="bold" font-style="normal" fill="#000" stroke="#000" stroke-width="1.6" stroke-linejoin="round">N</text></g><path fill="#000" stroke="#000" stroke-width="0.80" stroke-linejoin="miter" d="M656.84,175.16 L659.78,172.40 L663.38,172.40 L663.38,192.10 L659.59,192.10 L659.59,178.31 L656.84,179.49 Z"/><g transform="translate(-1.07,0)"><text x="666.34" y="191.70" font-size="27.00" textLength="8.40" lengthAdjust="spacingAndGlyphs" font-family='"Liberation Sans", sans-serif' font-weight="bold" font-style="normal" fill="#000" stroke="#000" stroke-width="1.6" stroke-linejoin="round">2</text></g><text x="666.34" y="191.70" font-size="27.00" textLength="8.40" lengthAdjust="spacingAndGlyphs" font-family='"Liberation Sans", sans-serif' font-weight="bold" font-style="normal" fill="#000" stroke="#000" stroke-width="1.6" stroke-linejoin="round">2</text><g transform="translate(1.07,0)"><text x="666.34" y="191.70" font-size="27.00" textLength="8.40" lengthAdjust="spacingAndGlyphs" font-family='"Liberation Sans", sans-serif' font-weight="bold" font-style="normal" fill="#000" stroke="#000" stroke-width="1.6" stroke-linejoin="round">2</text></g>
<g transform="translate(-1.09,0)"><text x="901.92" y="183.10" font-size="27.83" textLength="10.79" lengthAdjust="spacingAndGlyphs" font-family='"Liberation Sans", sans-serif' font-weight="bold" font-style="normal" fill="#000" stroke="#000" stroke-width="1.6" stroke-linejoin="round">N</text></g><text x="901.92" y="183.10" font-size="27.83" textLength="10.79" lengthAdjust="spacingAndGlyphs" font-family='"Liberation Sans", sans-serif' font-weight="bold" font-style="normal" fill="#000" stroke="#000" stroke-width="1.6" stroke-linejoin="round">N</text><g transform="translate(1.09,0)"><text x="901.92" y="183.10" font-size="27.83" textLength="10.79" lengthAdjust="spacingAndGlyphs" font-family='"Liberation Sans", sans-serif' font-weight="bold" font-style="normal" fill="#000" stroke="#000" stroke-width="1.6" stroke-linejoin="round">N</text></g><path fill="#000" stroke="#000" stroke-width="0.80" stroke-linejoin="miter" d="M915.25,166.30 L918.29,163.50 L922.01,163.50 L922.01,183.50 L918.09,183.50 L918.09,169.50 L915.25,170.70 Z"/><g transform="translate(-1.09,0)"><text x="925.01" y="183.10" font-size="27.43" textLength="8.75" lengthAdjust="spacingAndGlyphs" font-family='"Liberation Sans", sans-serif' font-weight="bold" font-style="normal" fill="#000" stroke="#000" stroke-width="1.6" stroke-linejoin="round">2</text></g><text x="925.01" y="183.10" font-size="27.43" textLength="8.75" lengthAdjust="spacingAndGlyphs" font-family='"Liberation Sans", sans-serif' font-weight="bold" font-style="normal" fill="#000" stroke="#000" stroke-width="1.6" stroke-linejoin="round">2</text><g transform="translate(1.09,0)"><text x="925.01" y="183.10" font-size="27.43" textLength="8.75" lengthAdjust="spacingAndGlyphs" font-family='"Liberation Sans", sans-serif' font-weight="bold" font-style="normal" fill="#000" stroke="#000" stroke-width="1.6" stroke-linejoin="round">2</text></g>
<g transform="translate(-1.08,0)"><text x="1106.38" y="171.10" font-size="27.68" textLength="13.14" lengthAdjust="spacingAndGlyphs" font-family='"Liberation Sans", sans-serif' font-weight="bold" font-style="normal" fill="#000" stroke="#000" stroke-width="1.6" stroke-linejoin="round">W</text></g><text x="1106.38" y="171.10" font-size="27.68" textLength="13.14" lengthAdjust="spacingAndGlyphs" font-family='"Liberation Sans", sans-serif' font-weight="bold" font-style="normal" fill="#000" stroke="#000" stroke-width="1.6" stroke-linejoin="round">W</text><g transform="translate(1.08,0)"><text x="1106.38" y="171.10" font-size="27.68" textLength="13.14" lengthAdjust="spacingAndGlyphs" font-family='"Liberation Sans", sans-serif' font-weight="bold" font-style="normal" fill="#000" stroke="#000" stroke-width="1.6" stroke-linejoin="round">W</text></g><g transform="translate(-1.08,0)"><text x="1123.94" y="171.10" font-size="27.68" textLength="1.82" lengthAdjust="spacingAndGlyphs" font-family='"Liberation Sans", sans-serif' font-weight="bold" font-style="normal" fill="#000" stroke="#000" stroke-width="1.6" stroke-linejoin="round">I</text></g><text x="1123.94" y="171.10" font-size="27.68" textLength="1.82" lengthAdjust="spacingAndGlyphs" font-family='"Liberation Sans", sans-serif' font-weight="bold" font-style="normal" fill="#000" stroke="#000" stroke-width="1.6" stroke-linejoin="round">I</text><g transform="translate(1.08,0)"><text x="1123.94" y="171.10" font-size="27.68" textLength="1.82" lengthAdjust="spacingAndGlyphs" font-family='"Liberation Sans", sans-serif' font-weight="bold" font-style="normal" fill="#000" stroke="#000" stroke-width="1.6" stroke-linejoin="round">I</text></g><g transform="translate(-1.08,0)"><text x="1130.09" y="171.10" font-size="27.68" textLength="6.80" lengthAdjust="spacingAndGlyphs" font-family='"Liberation Sans", sans-serif' font-weight="bold" font-style="normal" fill="#000" stroke="#000" stroke-width="1.6" stroke-linejoin="round">T</text></g><text x="1130.09" y="171.10" font-size="27.68" textLength="6.80" lengthAdjust="spacingAndGlyphs" font-family='"Liberation Sans", sans-serif' font-weight="bold" font-style="normal" fill="#000" stroke="#000" stroke-width="1.6" stroke-linejoin="round">T</text><g transform="translate(1.08,0)"><text x="1130.09" y="171.10" font-size="27.68" textLength="6.80" lengthAdjust="spacingAndGlyphs" font-family='"Liberation Sans", sans-serif' font-weight="bold" font-style="normal" fill="#000" stroke="#000" stroke-width="1.6" stroke-linejoin="round">T</text></g><g transform="translate(-1.08,0)"><text x="1140.94" y="171.10" font-size="27.68" textLength="8.04" lengthAdjust="spacingAndGlyphs" font-family='"Liberation Sans", sans-serif' font-weight="bold" font-style="normal" fill="#000" stroke="#000" stroke-width="1.6" stroke-linejoin="round">B</text></g><text x="1140.94" y="171.10" font-size="27.68" textLength="8.04" lengthAdjust="spacingAndGlyphs" font-family='"Liberation Sans", sans-serif' font-weight="bold" font-style="normal" fill="#000" stroke="#000" stroke-width="1.6" stroke-linejoin="round">B</text><g transform="translate(1.08,0)"><text x="1140.94" y="171.10" font-size="27.68" textLength="8.04" lengthAdjust="spacingAndGlyphs" font-family='"Liberation Sans", sans-serif' font-weight="bold" font-style="normal" fill="#000" stroke="#000" stroke-width="1.6" stroke-linejoin="round">B</text></g><g transform="translate(-1.08,0)"><text x="1153.06" y="171.10" font-size="27.68" textLength="8.53" lengthAdjust="spacingAndGlyphs" font-family='"Liberation Sans", sans-serif' font-weight="bold" font-style="normal" fill="#000" stroke="#000" stroke-width="1.6" stroke-linejoin="round">A</text></g><text x="1153.06" y="171.10" font-size="27.68" textLength="8.53" lengthAdjust="spacingAndGlyphs" font-family='"Liberation Sans", sans-serif' font-weight="bold" font-style="normal" fill="#000" stroke="#000" stroke-width="1.6" stroke-linejoin="round">A</text><g transform="translate(1.08,0)"><text x="1153.06" y="171.10" font-size="27.68" textLength="8.53" lengthAdjust="spacingAndGlyphs" font-family='"Liberation Sans", sans-serif' font-weight="bold" font-style="normal" fill="#000" stroke="#000" stroke-width="1.6" stroke-linejoin="round">A</text></g><g transform="translate(-1.08,0)"><text x="1165.34" y="171.10" font-size="27.68" textLength="9.14" lengthAdjust="spacingAndGlyphs" font-family='"Liberation Sans", sans-serif' font-weight="bold" font-style="normal" fill="#000" stroke="#000" stroke-width="1.6" stroke-linejoin="round">N</text></g><text x="1165.34" y="171.10" font-size="27.68" textLength="9.14" lengthAdjust="spacingAndGlyphs" font-family='"Liberation Sans", sans-serif' font-weight="bold" font-style="normal" fill="#000" stroke="#000" stroke-width="1.6" stroke-linejoin="round">N</text><g transform="translate(1.08,0)"><text x="1165.34" y="171.10" font-size="27.68" textLength="9.14" lengthAdjust="spacingAndGlyphs" font-family='"Liberation Sans", sans-serif' font-weight="bold" font-style="normal" fill="#000" stroke="#000" stroke-width="1.6" stroke-linejoin="round">N</text></g><g transform="translate(-1.08,0)"><text x="1177.66" y="171.10" font-size="27.68" textLength="9.62" lengthAdjust="spacingAndGlyphs" font-family='"Liberation Sans", sans-serif' font-weight="bold" font-style="normal" fill="#000" stroke="#000" stroke-width="1.6" stroke-linejoin="round">K</text></g><text x="1177.66" y="171.10" font-size="27.68" textLength="9.62" lengthAdjust="spacingAndGlyphs" font-family='"Liberation Sans", sans-serif' font-weight="bold" font-style="normal" fill="#000" stroke="#000" stroke-width="1.6" stroke-linejoin="round">K</text><g transform="translate(1.08,0)"><text x="1177.66" y="171.10" font-size="27.68" textLength="9.62" lengthAdjust="spacingAndGlyphs" font-family='"Liberation Sans", sans-serif' font-weight="bold" font-style="normal" fill="#000" stroke="#000" stroke-width="1.6" stroke-linejoin="round">K</text></g>
<g transform="translate(-1.09,0)"><text x="740.60" y="112.95" font-size="27.75" textLength="8.80" lengthAdjust="spacingAndGlyphs" font-family='"Liberation Sans", sans-serif' font-weight="bold" font-style="normal" fill="#000" stroke="#000" stroke-width="1.6" stroke-linejoin="round">B</text></g><text x="740.60" y="112.95" font-size="27.75" textLength="8.80" lengthAdjust="spacingAndGlyphs" font-family='"Liberation Sans", sans-serif' font-weight="bold" font-style="normal" fill="#000" stroke="#000" stroke-width="1.6" stroke-linejoin="round">B</text><g transform="translate(1.09,0)"><text x="740.60" y="112.95" font-size="27.75" textLength="8.80" lengthAdjust="spacingAndGlyphs" font-family='"Liberation Sans", sans-serif' font-weight="bold" font-style="normal" fill="#000" stroke="#000" stroke-width="1.6" stroke-linejoin="round">B</text></g><g transform="translate(-1.09,0)"><text x="753.46" y="112.95" font-size="27.75" textLength="9.29" lengthAdjust="spacingAndGlyphs" font-family='"Liberation Sans", sans-serif' font-weight="bold" font-style="normal" fill="#000" stroke="#000" stroke-width="1.6" stroke-linejoin="round">A</text></g><text x="753.46" y="112.95" font-size="27.75" textLength="9.29" lengthAdjust="spacingAndGlyphs" font-family='"Liberation Sans", sans-serif' font-weight="bold" font-style="normal" fill="#000" stroke="#000" stroke-width="1.6" stroke-linejoin="round">A</text><g transform="translate(1.09,0)"><text x="753.46" y="112.95" font-size="27.75" textLength="9.29" lengthAdjust="spacingAndGlyphs" font-family='"Liberation Sans", sans-serif' font-weight="bold" font-style="normal" fill="#000" stroke="#000" stroke-width="1.6" stroke-linejoin="round">A</text></g><g transform="translate(-1.09,0)"><text x="766.70" y="112.95" font-size="27.75" textLength="6.27" lengthAdjust="spacingAndGlyphs" font-family='"Liberation Sans", sans-serif' font-weight="bold" font-style="normal" fill="#000" stroke="#000" stroke-width="1.6" stroke-linejoin="round">L</text></g><text x="766.70" y="112.95" font-size="27.75" textLength="6.27" lengthAdjust="spacingAndGlyphs" font-family='"Liberation Sans", sans-serif' font-weight="bold" font-style="normal" fill="#000" stroke="#000" stroke-width="1.6" stroke-linejoin="round">L</text><g transform="translate(1.09,0)"><text x="766.70" y="112.95" font-size="27.75" textLength="6.27" lengthAdjust="spacingAndGlyphs" font-family='"Liberation Sans", sans-serif' font-weight="bold" font-style="normal" fill="#000" stroke="#000" stroke-width="1.6" stroke-linejoin="round">L</text></g><g transform="translate(-1.09,0)"><text x="776.38" y="112.95" font-size="27.75" textLength="15.93" lengthAdjust="spacingAndGlyphs" font-family='"Liberation Sans", sans-serif' font-weight="bold" font-style="normal" fill="#000" stroke="#000" stroke-width="1.6" stroke-linejoin="round">M</text></g><text x="776.38" y="112.95" font-size="27.75" textLength="15.93" lengthAdjust="spacingAndGlyphs" font-family='"Liberation Sans", sans-serif' font-weight="bold" font-style="normal" fill="#000" stroke="#000" stroke-width="1.6" stroke-linejoin="round">M</text><g transform="translate(1.09,0)"><text x="776.38" y="112.95" font-size="27.75" textLength="15.93" lengthAdjust="spacingAndGlyphs" font-family='"Liberation Sans", sans-serif' font-weight="bold" font-style="normal" fill="#000" stroke="#000" stroke-width="1.6" stroke-linejoin="round">M</text></g><g transform="translate(-1.09,0)"><text x="795.53" y="112.68" font-size="26.97" textLength="8.58" lengthAdjust="spacingAndGlyphs" font-family='"Liberation Sans", sans-serif' font-weight="bold" font-style="normal" fill="#000" stroke="#000" stroke-width="1.6" stroke-linejoin="round">O</text></g><text x="795.53" y="112.68" font-size="26.97" textLength="8.58" lengthAdjust="spacingAndGlyphs" font-family='"Liberation Sans", sans-serif' font-weight="bold" font-style="normal" fill="#000" stroke="#000" stroke-width="1.6" stroke-linejoin="round">O</text><g transform="translate(1.09,0)"><text x="795.53" y="112.68" font-size="26.97" textLength="8.58" lengthAdjust="spacingAndGlyphs" font-family='"Liberation Sans", sans-serif' font-weight="bold" font-style="normal" fill="#000" stroke="#000" stroke-width="1.6" stroke-linejoin="round">O</text></g><g transform="translate(-1.09,0)"><text x="807.82" y="112.95" font-size="27.75" textLength="8.72" lengthAdjust="spacingAndGlyphs" font-family='"Liberation Sans", sans-serif' font-weight="bold" font-style="normal" fill="#000" stroke="#000" stroke-width="1.6" stroke-linejoin="round">R</text></g><text x="807.82" y="112.95" font-size="27.75" textLength="8.72" lengthAdjust="spacingAndGlyphs" font-family='"Liberation Sans", sans-serif' font-weight="bold" font-style="normal" fill="#000" stroke="#000" stroke-width="1.6" stroke-linejoin="round">R</text><g transform="translate(1.09,0)"><text x="807.82" y="112.95" font-size="27.75" textLength="8.72" lengthAdjust="spacingAndGlyphs" font-family='"Liberation Sans", sans-serif' font-weight="bold" font-style="normal" fill="#000" stroke="#000" stroke-width="1.6" stroke-linejoin="round">R</text></g><g transform="translate(-1.09,0)"><text x="820.92" y="112.95" font-size="27.75" textLength="9.29" lengthAdjust="spacingAndGlyphs" font-family='"Liberation Sans", sans-serif' font-weight="bold" font-style="normal" fill="#000" stroke="#000" stroke-width="1.6" stroke-linejoin="round">A</text></g><text x="820.92" y="112.95" font-size="27.75" textLength="9.29" lengthAdjust="spacingAndGlyphs" font-family='"Liberation Sans", sans-serif' font-weight="bold" font-style="normal" fill="#000" stroke="#000" stroke-width="1.6" stroke-linejoin="round">A</text><g transform="translate(1.09,0)"><text x="820.92" y="112.95" font-size="27.75" textLength="9.29" lengthAdjust="spacingAndGlyphs" font-family='"Liberation Sans", sans-serif' font-weight="bold" font-style="normal" fill="#000" stroke="#000" stroke-width="1.6" stroke-linejoin="round">A</text></g><g transform="translate(-1.09,0)"><text x="834.16" y="112.95" font-size="27.75" textLength="6.27" lengthAdjust="spacingAndGlyphs" font-family='"Liberation Sans", sans-serif' font-weight="bold" font-style="normal" fill="#000" stroke="#000" stroke-width="1.6" stroke-linejoin="round">L</text></g><text x="834.16" y="112.95" font-size="27.75" textLength="6.27" lengthAdjust="spacingAndGlyphs" font-family='"Liberation Sans", sans-serif' font-weight="bold" font-style="normal" fill="#000" stroke="#000" stroke-width="1.6" stroke-linejoin="round">L</text><g transform="translate(1.09,0)"><text x="834.16" y="112.95" font-size="27.75" textLength="6.27" lengthAdjust="spacingAndGlyphs" font-family='"Liberation Sans", sans-serif' font-weight="bold" font-style="normal" fill="#000" stroke="#000" stroke-width="1.6" stroke-linejoin="round">L</text></g>
<g transform="translate(-1.07,0)"><text x="741.80" y="142.20" font-size="27.39" textLength="9.11" lengthAdjust="spacingAndGlyphs" font-family='"Liberation Sans", sans-serif' font-weight="bold" font-style="normal" fill="#000" stroke="#000" stroke-width="1.6" stroke-linejoin="round">R</text></g><text x="741.80" y="142.20" font-size="27.39" textLength="9.11" lengthAdjust="spacingAndGlyphs" font-family='"Liberation Sans", sans-serif' font-weight="bold" font-style="normal" fill="#000" stroke="#000" stroke-width="1.6" stroke-linejoin="round">R</text><g transform="translate(1.07,0)"><text x="741.80" y="142.20" font-size="27.39" textLength="9.11" lengthAdjust="spacingAndGlyphs" font-family='"Liberation Sans", sans-serif' font-weight="bold" font-style="normal" fill="#000" stroke="#000" stroke-width="1.6" stroke-linejoin="round">R</text></g><g transform="translate(-1.07,0)"><text x="755.17" y="141.93" font-size="27.00" textLength="8.10" lengthAdjust="spacingAndGlyphs" font-family='"Liberation Sans", sans-serif' font-weight="bold" font-style="normal" fill="#000" stroke="#000" stroke-width="1.6" stroke-linejoin="round">5</text></g><text x="755.17" y="141.93" font-size="27.00" textLength="8.10" lengthAdjust="spacingAndGlyphs" font-family='"Liberation Sans", sans-serif' font-weight="bold" font-style="normal" fill="#000" stroke="#000" stroke-width="1.6" stroke-linejoin="round">5</text><g transform="translate(1.07,0)"><text x="755.17" y="141.93" font-size="27.00" textLength="8.10" lengthAdjust="spacingAndGlyphs" font-family='"Liberation Sans", sans-serif' font-weight="bold" font-style="normal" fill="#000" stroke="#000" stroke-width="1.6" stroke-linejoin="round">5</text></g><g transform="translate(-1.07,0)"><text x="767.64" y="142.20" font-size="27.39" textLength="8.33" lengthAdjust="spacingAndGlyphs" font-family='"Liberation Sans", sans-serif' font-weight="bold" font-style="normal" fill="#000" stroke="#000" stroke-width="1.6" stroke-linejoin="round">4</text></g><text x="767.64" y="142.20" font-size="27.39" textLength="8.33" lengthAdjust="spacingAndGlyphs" font-family='"Liberation Sans", sans-serif' font-weight="bold" font-style="normal" fill="#000" stroke="#000" stroke-width="1.6" stroke-linejoin="round">4</text><g transform="translate(1.07,0)"><text x="767.64" y="142.20" font-size="27.39" textLength="8.33" lengthAdjust="spacingAndGlyphs" font-family='"Liberation Sans", sans-serif' font-weight="bold" font-style="normal" fill="#000" stroke="#000" stroke-width="1.6" stroke-linejoin="round">4</text></g><g transform="translate(-1.07,0)"><text x="780.41" y="141.93" font-size="27.00" textLength="8.10" lengthAdjust="spacingAndGlyphs" font-family='"Liberation Sans", sans-serif' font-weight="bold" font-style="normal" fill="#000" stroke="#000" stroke-width="1.6" stroke-linejoin="round">5</text></g><text x="780.41" y="141.93" font-size="27.00" textLength="8.10" lengthAdjust="spacingAndGlyphs" font-family='"Liberation Sans", sans-serif' font-weight="bold" font-style="normal" fill="#000" stroke="#000" stroke-width="1.6" stroke-linejoin="round">5</text><g transform="translate(1.07,0)"><text x="780.41" y="141.93" font-size="27.00" textLength="8.10" lengthAdjust="spacingAndGlyphs" font-family='"Liberation Sans", sans-serif' font-weight="bold" font-style="normal" fill="#000" stroke="#000" stroke-width="1.6" stroke-linejoin="round">5</text></g>
<path fill="#000" stroke="#000" stroke-width="0.80" stroke-linejoin="miter" d="M732.90,235.16 L735.64,232.40 L739.00,232.40 L739.00,252.10 L735.46,252.10 L735.46,238.31 L732.90,239.49 Z"/><g transform="translate(-1.07,0)"><text x="741.83" y="251.70" font-size="27.39" textLength="7.35" lengthAdjust="spacingAndGlyphs" font-family='"Liberation Sans", sans-serif' font-weight="bold" font-style="normal" fill="#000" stroke="#000" stroke-width="1.6" stroke-linejoin="round">7</text></g><text x="741.83" y="251.70" font-size="27.39" textLength="7.35" lengthAdjust="spacingAndGlyphs" font-family='"Liberation Sans", sans-serif' font-weight="bold" font-style="normal" fill="#000" stroke="#000" stroke-width="1.6" stroke-linejoin="round">7</text><g transform="translate(1.07,0)"><text x="741.83" y="251.70" font-size="27.39" textLength="7.35" lengthAdjust="spacingAndGlyphs" font-family='"Liberation Sans", sans-serif' font-weight="bold" font-style="normal" fill="#000" stroke="#000" stroke-width="1.6" stroke-linejoin="round">7</text></g><g transform="translate(-1.07,0)"><text x="760.62" y="251.70" font-size="27.39" textLength="9.97" lengthAdjust="spacingAndGlyphs" font-family='"Liberation Sans", sans-serif' font-weight="bold" font-style="normal" fill="#000" stroke="#000" stroke-width="1.6" stroke-linejoin="round">K</text></g><text x="760.62" y="251.70" font-size="27.39" textLength="9.97" lengthAdjust="spacingAndGlyphs" font-family='"Liberation Sans", sans-serif' font-weight="bold" font-style="normal" fill="#000" stroke="#000" stroke-width="1.6" stroke-linejoin="round">K</text><g transform="translate(1.07,0)"><text x="760.62" y="251.70" font-size="27.39" textLength="9.97" lengthAdjust="spacingAndGlyphs" font-family='"Liberation Sans", sans-serif' font-weight="bold" font-style="normal" fill="#000" stroke="#000" stroke-width="1.6" stroke-linejoin="round">K</text></g><g transform="translate(-1.07,0)"><text x="774.12" y="251.70" font-size="27.39" textLength="15.25" lengthAdjust="spacingAndGlyphs" font-family='"Liberation Sans", sans-serif' font-weight="bold" font-style="normal" fill="#000" stroke="#000" stroke-width="1.6" stroke-linejoin="round">M</text></g><text x="774.12" y="251.70" font-size="27.39" textLength="15.25" lengthAdjust="spacingAndGlyphs" font-family='"Liberation Sans", sans-serif' font-weight="bold" font-style="normal" fill="#000" stroke="#000" stroke-width="1.6" stroke-linejoin="round">M</text><g transform="translate(1.07,0)"><text x="774.12" y="251.70" font-size="27.39" textLength="15.25" lengthAdjust="spacingAndGlyphs" font-family='"Liberation Sans", sans-serif' font-weight="bold" font-style="normal" fill="#000" stroke="#000" stroke-width="1.6" stroke-linejoin="round">M</text></g>
<g transform="translate(-0.70,0)"><text x="806.83" y="241.08" font-size="17.32" textLength="5.92" lengthAdjust="spacingAndGlyphs" font-family='"Liberation Sans", sans-serif' font-weight="bold" font-style="normal" fill="#000" stroke="#000" stroke-width="1.1" stroke-linejoin="round">0</text></g><text x="806.83" y="241.08" font-size="17.32" textLength="5.92" lengthAdjust="spacingAndGlyphs" font-family='"Liberation Sans", sans-serif' font-weight="bold" font-style="normal" fill="#000" stroke="#000" stroke-width="1.1" stroke-linejoin="round">0</text><g transform="translate(0.70,0)"><text x="806.83" y="241.08" font-size="17.32" textLength="5.92" lengthAdjust="spacingAndGlyphs" font-family='"Liberation Sans", sans-serif' font-weight="bold" font-style="normal" fill="#000" stroke="#000" stroke-width="1.1" stroke-linejoin="round">0</text></g><g transform="translate(-0.70,0)"><text x="815.22" y="241.08" font-size="17.32" textLength="5.92" lengthAdjust="spacingAndGlyphs" font-family='"Liberation Sans", sans-serif' font-weight="bold" font-style="normal" fill="#000" stroke="#000" stroke-width="1.1" stroke-linejoin="round">0</text></g><text x="815.22" y="241.08" font-size="17.32" textLength="5.92" lengthAdjust="spacingAndGlyphs" font-family='"Liberation Sans", sans-serif' font-weight="bold" font-style="normal" fill="#000" stroke="#000" stroke-width="1.1" stroke-linejoin="round">0</text><g transform="translate(0.70,0)"><text x="815.22" y="241.08" font-size="17.32" textLength="5.92" lengthAdjust="spacingAndGlyphs" font-family='"Liberation Sans", sans-serif' font-weight="bold" font-style="normal" fill="#000" stroke="#000" stroke-width="1.1" stroke-linejoin="round">0</text></g><g transform="translate(-0.70,0)"><text x="823.62" y="241.08" font-size="17.32" textLength="5.92" lengthAdjust="spacingAndGlyphs" font-family='"Liberation Sans", sans-serif' font-weight="bold" font-style="normal" fill="#000" stroke="#000" stroke-width="1.1" stroke-linejoin="round">0</text></g><text x="823.62" y="241.08" font-size="17.32" textLength="5.92" lengthAdjust="spacingAndGlyphs" font-family='"Liberation Sans", sans-serif' font-weight="bold" font-style="normal" fill="#000" stroke="#000" stroke-width="1.1" stroke-linejoin="round">0</text><g transform="translate(0.70,0)"><text x="823.62" y="241.08" font-size="17.32" textLength="5.92" lengthAdjust="spacingAndGlyphs" font-family='"Liberation Sans", sans-serif' font-weight="bold" font-style="normal" fill="#000" stroke="#000" stroke-width="1.1" stroke-linejoin="round">0</text></g><g transform="translate(-0.70,0)"><text x="832.02" y="241.08" font-size="17.32" textLength="5.92" lengthAdjust="spacingAndGlyphs" font-family='"Liberation Sans", sans-serif' font-weight="bold" font-style="normal" fill="#000" stroke="#000" stroke-width="1.1" stroke-linejoin="round">0</text></g><text x="832.02" y="241.08" font-size="17.32" textLength="5.92" lengthAdjust="spacingAndGlyphs" font-family='"Liberation Sans", sans-serif' font-weight="bold" font-style="normal" fill="#000" stroke="#000" stroke-width="1.1" stroke-linejoin="round">0</text><g transform="translate(0.70,0)"><text x="832.02" y="241.08" font-size="17.32" textLength="5.92" lengthAdjust="spacingAndGlyphs" font-family='"Liberation Sans", sans-serif' font-weight="bold" font-style="normal" fill="#000" stroke="#000" stroke-width="1.1" stroke-linejoin="round">0</text></g>
<g transform="translate(-0.70,0)"><text x="806.68" y="260.25" font-size="17.83" textLength="6.39" lengthAdjust="spacingAndGlyphs" font-family='"Liberation Sans", sans-serif' font-weight="bold" font-style="normal" fill="#000" stroke="#000" stroke-width="1.1" stroke-linejoin="round">K</text></g><text x="806.68" y="260.25" font-size="17.83" textLength="6.39" lengthAdjust="spacingAndGlyphs" font-family='"Liberation Sans", sans-serif' font-weight="bold" font-style="normal" fill="#000" stroke="#000" stroke-width="1.1" stroke-linejoin="round">K</text><g transform="translate(0.70,0)"><text x="806.68" y="260.25" font-size="17.83" textLength="6.39" lengthAdjust="spacingAndGlyphs" font-family='"Liberation Sans", sans-serif' font-weight="bold" font-style="normal" fill="#000" stroke="#000" stroke-width="1.1" stroke-linejoin="round">K</text></g><g transform="translate(-0.70,0)"><text x="815.81" y="260.25" font-size="17.83" textLength="4.10" lengthAdjust="spacingAndGlyphs" font-family='"Liberation Sans", sans-serif' font-weight="bold" font-style="normal" fill="#000" stroke="#000" stroke-width="1.1" stroke-linejoin="round">E</text></g><text x="815.81" y="260.25" font-size="17.83" textLength="4.10" lengthAdjust="spacingAndGlyphs" font-family='"Liberation Sans", sans-serif' font-weight="bold" font-style="normal" fill="#000" stroke="#000" stroke-width="1.1" stroke-linejoin="round">E</text><g transform="translate(0.70,0)"><text x="815.81" y="260.25" font-size="17.83" textLength="4.10" lengthAdjust="spacingAndGlyphs" font-family='"Liberation Sans", sans-serif' font-weight="bold" font-style="normal" fill="#000" stroke="#000" stroke-width="1.1" stroke-linejoin="round">E</text></g><g transform="translate(-0.70,0)"><text x="822.39" y="260.25" font-size="17.83" textLength="6.08" lengthAdjust="spacingAndGlyphs" font-family='"Liberation Sans", sans-serif' font-weight="bold" font-style="normal" fill="#000" stroke="#000" stroke-width="1.1" stroke-linejoin="round">N</text></g><text x="822.39" y="260.25" font-size="17.83" textLength="6.08" lengthAdjust="spacingAndGlyphs" font-family='"Liberation Sans", sans-serif' font-weight="bold" font-style="normal" fill="#000" stroke="#000" stroke-width="1.1" stroke-linejoin="round">N</text><g transform="translate(0.70,0)"><text x="822.39" y="260.25" font-size="17.83" textLength="6.08" lengthAdjust="spacingAndGlyphs" font-family='"Liberation Sans", sans-serif' font-weight="bold" font-style="normal" fill="#000" stroke="#000" stroke-width="1.1" stroke-linejoin="round">N</text></g><g transform="translate(-0.70,0)"><text x="830.65" y="260.25" font-size="17.83" textLength="5.48" lengthAdjust="spacingAndGlyphs" font-family='"Liberation Sans", sans-serif' font-weight="bold" font-style="normal" fill="#000" stroke="#000" stroke-width="1.1" stroke-linejoin="round">D</text></g><text x="830.65" y="260.25" font-size="17.83" textLength="5.48" lengthAdjust="spacingAndGlyphs" font-family='"Liberation Sans", sans-serif' font-weight="bold" font-style="normal" fill="#000" stroke="#000" stroke-width="1.1" stroke-linejoin="round">D</text><g transform="translate(0.70,0)"><text x="830.65" y="260.25" font-size="17.83" textLength="5.48" lengthAdjust="spacingAndGlyphs" font-family='"Liberation Sans", sans-serif' font-weight="bold" font-style="normal" fill="#000" stroke="#000" stroke-width="1.1" stroke-linejoin="round">D</text></g><g transform="translate(-0.70,0)"><text x="838.87" y="260.25" font-size="17.83" textLength="5.67" lengthAdjust="spacingAndGlyphs" font-family='"Liberation Sans", sans-serif' font-weight="bold" font-style="normal" fill="#000" stroke="#000" stroke-width="1.1" stroke-linejoin="round">A</text></g><text x="838.87" y="260.25" font-size="17.83" textLength="5.67" lengthAdjust="spacingAndGlyphs" font-family='"Liberation Sans", sans-serif' font-weight="bold" font-style="normal" fill="#000" stroke="#000" stroke-width="1.1" stroke-linejoin="round">A</text><g transform="translate(0.70,0)"><text x="838.87" y="260.25" font-size="17.83" textLength="5.67" lengthAdjust="spacingAndGlyphs" font-family='"Liberation Sans", sans-serif' font-weight="bold" font-style="normal" fill="#000" stroke="#000" stroke-width="1.1" stroke-linejoin="round">A</text></g><g transform="translate(-0.70,0)"><text x="847.18" y="260.25" font-size="17.83" textLength="3.76" lengthAdjust="spacingAndGlyphs" font-family='"Liberation Sans", sans-serif' font-weight="bold" font-style="normal" fill="#000" stroke="#000" stroke-width="1.1" stroke-linejoin="round">L</text></g><text x="847.18" y="260.25" font-size="17.83" textLength="3.76" lengthAdjust="spacingAndGlyphs" font-family='"Liberation Sans", sans-serif' font-weight="bold" font-style="normal" fill="#000" stroke="#000" stroke-width="1.1" stroke-linejoin="round">L</text><g transform="translate(0.70,0)"><text x="847.18" y="260.25" font-size="17.83" textLength="3.76" lengthAdjust="spacingAndGlyphs" font-family='"Liberation Sans", sans-serif' font-weight="bold" font-style="normal" fill="#000" stroke="#000" stroke-width="1.1" stroke-linejoin="round">L</text></g>
<g transform="translate(-0.67,0)"><text x="806.63" y="279.45" font-size="16.81" textLength="6.53" lengthAdjust="spacingAndGlyphs" font-family='"Liberation Sans", sans-serif' font-weight="bold" font-style="normal" fill="#000" stroke="#000" stroke-width="1.1" stroke-linejoin="round">K</text></g><text x="806.63" y="279.45" font-size="16.81" textLength="6.53" lengthAdjust="spacingAndGlyphs" font-family='"Liberation Sans", sans-serif' font-weight="bold" font-style="normal" fill="#000" stroke="#000" stroke-width="1.1" stroke-linejoin="round">K</text><g transform="translate(0.67,0)"><text x="806.63" y="279.45" font-size="16.81" textLength="6.53" lengthAdjust="spacingAndGlyphs" font-family='"Liberation Sans", sans-serif' font-weight="bold" font-style="normal" fill="#000" stroke="#000" stroke-width="1.1" stroke-linejoin="round">K</text></g><g transform="translate(-0.67,0)"><text x="815.74" y="279.45" font-size="16.81" textLength="5.44" lengthAdjust="spacingAndGlyphs" font-family='"Liberation Sans", sans-serif' font-weight="bold" font-style="normal" fill="#000" stroke="#000" stroke-width="1.1" stroke-linejoin="round">R</text></g><text x="815.74" y="279.45" font-size="16.81" textLength="5.44" lengthAdjust="spacingAndGlyphs" font-family='"Liberation Sans", sans-serif' font-weight="bold" font-style="normal" fill="#000" stroke="#000" stroke-width="1.1" stroke-linejoin="round">R</text><g transform="translate(0.67,0)"><text x="815.74" y="279.45" font-size="16.81" textLength="5.44" lengthAdjust="spacingAndGlyphs" font-family='"Liberation Sans", sans-serif' font-weight="bold" font-style="normal" fill="#000" stroke="#000" stroke-width="1.1" stroke-linejoin="round">R</text></g><g transform="translate(-0.67,0)"><text x="824.00" y="279.45" font-size="16.81" textLength="5.80" lengthAdjust="spacingAndGlyphs" font-family='"Liberation Sans", sans-serif' font-weight="bold" font-style="normal" fill="#000" stroke="#000" stroke-width="1.1" stroke-linejoin="round">A</text></g><text x="824.00" y="279.45" font-size="16.81" textLength="5.80" lengthAdjust="spacingAndGlyphs" font-family='"Liberation Sans", sans-serif' font-weight="bold" font-style="normal" fill="#000" stroke="#000" stroke-width="1.1" stroke-linejoin="round">A</text><g transform="translate(0.67,0)"><text x="824.00" y="279.45" font-size="16.81" textLength="5.80" lengthAdjust="spacingAndGlyphs" font-family='"Liberation Sans", sans-serif' font-weight="bold" font-style="normal" fill="#000" stroke="#000" stroke-width="1.1" stroke-linejoin="round">A</text></g><g transform="translate(-0.67,0)"><text x="832.48" y="279.29" font-size="16.34" textLength="5.51" lengthAdjust="spacingAndGlyphs" font-family='"Liberation Sans", sans-serif' font-weight="bold" font-style="normal" fill="#000" stroke="#000" stroke-width="1.1" stroke-linejoin="round">G</text></g><text x="832.48" y="279.29" font-size="16.34" textLength="5.51" lengthAdjust="spacingAndGlyphs" font-family='"Liberation Sans", sans-serif' font-weight="bold" font-style="normal" fill="#000" stroke="#000" stroke-width="1.1" stroke-linejoin="round">G</text><g transform="translate(0.67,0)"><text x="832.48" y="279.29" font-size="16.34" textLength="5.51" lengthAdjust="spacingAndGlyphs" font-family='"Liberation Sans", sans-serif' font-weight="bold" font-style="normal" fill="#000" stroke="#000" stroke-width="1.1" stroke-linejoin="round">G</text></g><g transform="translate(-0.67,0)"><text x="840.51" y="279.29" font-size="16.34" textLength="4.98" lengthAdjust="spacingAndGlyphs" font-family='"Liberation Sans", sans-serif' font-weight="bold" font-style="normal" fill="#000" stroke="#000" stroke-width="1.1" stroke-linejoin="round">S</text></g><text x="840.51" y="279.29" font-size="16.34" textLength="4.98" lengthAdjust="spacingAndGlyphs" font-family='"Liberation Sans", sans-serif' font-weight="bold" font-style="normal" fill="#000" stroke="#000" stroke-width="1.1" stroke-linejoin="round">S</text><g transform="translate(0.67,0)"><text x="840.51" y="279.29" font-size="16.34" textLength="4.98" lengthAdjust="spacingAndGlyphs" font-family='"Liberation Sans", sans-serif' font-weight="bold" font-style="normal" fill="#000" stroke="#000" stroke-width="1.1" stroke-linejoin="round">S</text></g><g transform="translate(-0.67,0)"><text x="848.32" y="279.45" font-size="16.81" textLength="4.64" lengthAdjust="spacingAndGlyphs" font-family='"Liberation Sans", sans-serif' font-weight="bold" font-style="normal" fill="#000" stroke="#000" stroke-width="1.1" stroke-linejoin="round">T</text></g><text x="848.32" y="279.45" font-size="16.81" textLength="4.64" lengthAdjust="spacingAndGlyphs" font-family='"Liberation Sans", sans-serif' font-weight="bold" font-style="normal" fill="#000" stroke="#000" stroke-width="1.1" stroke-linejoin="round">T</text><g transform="translate(0.67,0)"><text x="848.32" y="279.45" font-size="16.81" textLength="4.64" lengthAdjust="spacingAndGlyphs" font-family='"Liberation Sans", sans-serif' font-weight="bold" font-style="normal" fill="#000" stroke="#000" stroke-width="1.1" stroke-linejoin="round">T</text></g><g transform="translate(-0.67,0)"><text x="855.86" y="279.45" font-size="16.81" textLength="5.80" lengthAdjust="spacingAndGlyphs" font-family='"Liberation Sans", sans-serif' font-weight="bold" font-style="normal" fill="#000" stroke="#000" stroke-width="1.1" stroke-linejoin="round">A</text></g><text x="855.86" y="279.45" font-size="16.81" textLength="5.80" lengthAdjust="spacingAndGlyphs" font-family='"Liberation Sans", sans-serif' font-weight="bold" font-style="normal" fill="#000" stroke="#000" stroke-width="1.1" stroke-linejoin="round">A</text><g transform="translate(0.67,0)"><text x="855.86" y="279.45" font-size="16.81" textLength="5.80" lengthAdjust="spacingAndGlyphs" font-family='"Liberation Sans", sans-serif' font-weight="bold" font-style="normal" fill="#000" stroke="#000" stroke-width="1.1" stroke-linejoin="round">A</text></g><g transform="translate(-0.67,0)"><text x="864.41" y="279.29" font-size="16.34" textLength="4.98" lengthAdjust="spacingAndGlyphs" font-family='"Liberation Sans", sans-serif' font-weight="bold" font-style="normal" fill="#000" stroke="#000" stroke-width="1.1" stroke-linejoin="round">S</text></g><text x="864.41" y="279.29" font-size="16.34" textLength="4.98" lengthAdjust="spacingAndGlyphs" font-family='"Liberation Sans", sans-serif' font-weight="bold" font-style="normal" fill="#000" stroke="#000" stroke-width="1.1" stroke-linejoin="round">S</text><g transform="translate(0.67,0)"><text x="864.41" y="279.29" font-size="16.34" textLength="4.98" lengthAdjust="spacingAndGlyphs" font-family='"Liberation Sans", sans-serif' font-weight="bold" font-style="normal" fill="#000" stroke="#000" stroke-width="1.1" stroke-linejoin="round">S</text></g><g transform="translate(-0.67,0)"><text x="871.97" y="279.45" font-size="16.81" textLength="1.39" lengthAdjust="spacingAndGlyphs" font-family='"Liberation Sans", sans-serif' font-weight="bold" font-style="normal" fill="#000" stroke="#000" stroke-width="1.1" stroke-linejoin="round">I</text></g><text x="871.97" y="279.45" font-size="16.81" textLength="1.39" lengthAdjust="spacingAndGlyphs" font-family='"Liberation Sans", sans-serif' font-weight="bold" font-style="normal" fill="#000" stroke="#000" stroke-width="1.1" stroke-linejoin="round">I</text><g transform="translate(0.67,0)"><text x="871.97" y="279.45" font-size="16.81" textLength="1.39" lengthAdjust="spacingAndGlyphs" font-family='"Liberation Sans", sans-serif' font-weight="bold" font-style="normal" fill="#000" stroke="#000" stroke-width="1.1" stroke-linejoin="round">I</text></g><g transform="translate(-0.67,0)"><text x="875.79" y="279.45" font-size="16.81" textLength="4.23" lengthAdjust="spacingAndGlyphs" font-family='"Liberation Sans", sans-serif' font-weight="bold" font-style="normal" fill="#000" stroke="#000" stroke-width="1.1" stroke-linejoin="round">E</text></g><text x="875.79" y="279.45" font-size="16.81" textLength="4.23" lengthAdjust="spacingAndGlyphs" font-family='"Liberation Sans", sans-serif' font-weight="bold" font-style="normal" fill="#000" stroke="#000" stroke-width="1.1" stroke-linejoin="round">E</text><g transform="translate(0.67,0)"><text x="875.79" y="279.45" font-size="16.81" textLength="4.23" lengthAdjust="spacingAndGlyphs" font-family='"Liberation Sans", sans-serif' font-weight="bold" font-style="normal" fill="#000" stroke="#000" stroke-width="1.1" stroke-linejoin="round">E</text></g>
<g transform="translate(-1.00,0)"><text x="948.66" y="256.35" font-size="24.65" textLength="8.57" lengthAdjust="spacingAndGlyphs" font-family='"Liberation Sans", sans-serif' font-weight="bold" font-style="normal" fill="#000" stroke="#000" stroke-width="1.6" stroke-linejoin="round">O</text></g><text x="948.66" y="256.35" font-size="24.65" textLength="8.57" lengthAdjust="spacingAndGlyphs" font-family='"Liberation Sans", sans-serif' font-weight="bold" font-style="normal" fill="#000" stroke="#000" stroke-width="1.6" stroke-linejoin="round">O</text><g transform="translate(1.00,0)"><text x="948.66" y="256.35" font-size="24.65" textLength="8.57" lengthAdjust="spacingAndGlyphs" font-family='"Liberation Sans", sans-serif' font-weight="bold" font-style="normal" fill="#000" stroke="#000" stroke-width="1.6" stroke-linejoin="round">O</text></g><g transform="translate(-1.00,0)"><text x="961.08" y="256.35" font-size="24.65" textLength="8.82" lengthAdjust="spacingAndGlyphs" font-family='"Liberation Sans", sans-serif' font-weight="bold" font-style="normal" fill="#000" stroke="#000" stroke-width="1.6" stroke-linejoin="round">G</text></g><text x="961.08" y="256.35" font-size="24.65" textLength="8.82" lengthAdjust="spacingAndGlyphs" font-family='"Liberation Sans", sans-serif' font-weight="bold" font-style="normal" fill="#000" stroke="#000" stroke-width="1.6" stroke-linejoin="round">G</text><g transform="translate(1.00,0)"><text x="961.08" y="256.35" font-size="24.65" textLength="8.82" lengthAdjust="spacingAndGlyphs" font-family='"Liberation Sans", sans-serif' font-weight="bold" font-style="normal" fill="#000" stroke="#000" stroke-width="1.6" stroke-linejoin="round">G</text></g><g transform="translate(-1.00,0)"><text x="973.37" y="256.60" font-size="25.36" textLength="2.54" lengthAdjust="spacingAndGlyphs" font-family='"Liberation Sans", sans-serif' font-weight="bold" font-style="normal" fill="#000" stroke="#000" stroke-width="1.6" stroke-linejoin="round">I</text></g><text x="973.37" y="256.60" font-size="25.36" textLength="2.54" lengthAdjust="spacingAndGlyphs" font-family='"Liberation Sans", sans-serif' font-weight="bold" font-style="normal" fill="#000" stroke="#000" stroke-width="1.6" stroke-linejoin="round">I</text><g transform="translate(1.00,0)"><text x="973.37" y="256.60" font-size="25.36" textLength="2.54" lengthAdjust="spacingAndGlyphs" font-family='"Liberation Sans", sans-serif' font-weight="bold" font-style="normal" fill="#000" stroke="#000" stroke-width="1.6" stroke-linejoin="round">I</text></g><g transform="translate(-1.00,0)"><text x="979.39" y="256.60" font-size="25.36" textLength="6.82" lengthAdjust="spacingAndGlyphs" font-family='"Liberation Sans", sans-serif' font-weight="bold" font-style="normal" fill="#000" stroke="#000" stroke-width="1.6" stroke-linejoin="round">E</text></g><text x="979.39" y="256.60" font-size="25.36" textLength="6.82" lengthAdjust="spacingAndGlyphs" font-family='"Liberation Sans", sans-serif' font-weight="bold" font-style="normal" fill="#000" stroke="#000" stroke-width="1.6" stroke-linejoin="round">E</text><g transform="translate(1.00,0)"><text x="979.39" y="256.60" font-size="25.36" textLength="6.82" lengthAdjust="spacingAndGlyphs" font-family='"Liberation Sans", sans-serif' font-weight="bold" font-style="normal" fill="#000" stroke="#000" stroke-width="1.6" stroke-linejoin="round">E</text></g><g transform="translate(-1.00,0)"><text x="990.25" y="256.35" font-size="24.65" textLength="7.99" lengthAdjust="spacingAndGlyphs" font-family='"Liberation Sans", sans-serif' font-weight="bold" font-style="normal" fill="#000" stroke="#000" stroke-width="1.6" stroke-linejoin="round">S</text></g><text x="990.25" y="256.35" font-size="24.65" textLength="7.99" lengthAdjust="spacingAndGlyphs" font-family='"Liberation Sans", sans-serif' font-weight="bold" font-style="normal" fill="#000" stroke="#000" stroke-width="1.6" stroke-linejoin="round">S</text><g transform="translate(1.00,0)"><text x="990.25" y="256.35" font-size="24.65" textLength="7.99" lengthAdjust="spacingAndGlyphs" font-family='"Liberation Sans", sans-serif' font-weight="bold" font-style="normal" fill="#000" stroke="#000" stroke-width="1.6" stroke-linejoin="round">S</text></g>
<g transform="translate(-1.06,0)"><text x="1079.50" y="231.60" font-size="26.96" textLength="9.53" lengthAdjust="spacingAndGlyphs" font-family='"Liberation Sans", sans-serif' font-weight="bold" font-style="normal" fill="#000" stroke="#000" stroke-width="1.6" stroke-linejoin="round">R</text></g><text x="1079.50" y="231.60" font-size="26.96" textLength="9.53" lengthAdjust="spacingAndGlyphs" font-family='"Liberation Sans", sans-serif' font-weight="bold" font-style="normal" fill="#000" stroke="#000" stroke-width="1.6" stroke-linejoin="round">R</text><g transform="translate(1.06,0)"><text x="1079.50" y="231.60" font-size="26.96" textLength="9.53" lengthAdjust="spacingAndGlyphs" font-family='"Liberation Sans", sans-serif' font-weight="bold" font-style="normal" fill="#000" stroke="#000" stroke-width="1.6" stroke-linejoin="round">R</text></g><g transform="translate(-1.06,0)"><text x="1093.26" y="231.33" font-size="26.57" textLength="8.48" lengthAdjust="spacingAndGlyphs" font-family='"Liberation Sans", sans-serif' font-weight="bold" font-style="normal" fill="#000" stroke="#000" stroke-width="1.6" stroke-linejoin="round">5</text></g><text x="1093.26" y="231.33" font-size="26.57" textLength="8.48" lengthAdjust="spacingAndGlyphs" font-family='"Liberation Sans", sans-serif' font-weight="bold" font-style="normal" fill="#000" stroke="#000" stroke-width="1.6" stroke-linejoin="round">5</text><g transform="translate(1.06,0)"><text x="1093.26" y="231.33" font-size="26.57" textLength="8.48" lengthAdjust="spacingAndGlyphs" font-family='"Liberation Sans", sans-serif' font-weight="bold" font-style="normal" fill="#000" stroke="#000" stroke-width="1.6" stroke-linejoin="round">5</text></g><g transform="translate(-1.06,0)"><text x="1105.86" y="231.33" font-size="26.57" textLength="8.48" lengthAdjust="spacingAndGlyphs" font-family='"Liberation Sans", sans-serif' font-weight="bold" font-style="normal" fill="#000" stroke="#000" stroke-width="1.6" stroke-linejoin="round">5</text></g><text x="1105.86" y="231.33" font-size="26.57" textLength="8.48" lengthAdjust="spacingAndGlyphs" font-family='"Liberation Sans", sans-serif' font-weight="bold" font-style="normal" fill="#000" stroke="#000" stroke-width="1.6" stroke-linejoin="round">5</text><g transform="translate(1.06,0)"><text x="1105.86" y="231.33" font-size="26.57" textLength="8.48" lengthAdjust="spacingAndGlyphs" font-family='"Liberation Sans", sans-serif' font-weight="bold" font-style="normal" fill="#000" stroke="#000" stroke-width="1.6" stroke-linejoin="round">5</text></g><g transform="translate(-1.06,0)"><text x="1118.46" y="231.33" font-size="26.57" textLength="8.48" lengthAdjust="spacingAndGlyphs" font-family='"Liberation Sans", sans-serif' font-weight="bold" font-style="normal" fill="#000" stroke="#000" stroke-width="1.6" stroke-linejoin="round">5</text></g><text x="1118.46" y="231.33" font-size="26.57" textLength="8.48" lengthAdjust="spacingAndGlyphs" font-family='"Liberation Sans", sans-serif' font-weight="bold" font-style="normal" fill="#000" stroke="#000" stroke-width="1.6" stroke-linejoin="round">5</text><g transform="translate(1.06,0)"><text x="1118.46" y="231.33" font-size="26.57" textLength="8.48" lengthAdjust="spacingAndGlyphs" font-family='"Liberation Sans", sans-serif' font-weight="bold" font-style="normal" fill="#000" stroke="#000" stroke-width="1.6" stroke-linejoin="round">5</text></g>
<g transform="translate(-1.40,0)"><text x="560.77" y="302.95" font-size="36.45" textLength="12.14" lengthAdjust="spacingAndGlyphs" font-family='"Liberation Sans", sans-serif' font-weight="bold" font-style="normal" fill="#000" stroke="#000" stroke-width="1.6" stroke-linejoin="round">V</text></g><text x="560.77" y="302.95" font-size="36.45" textLength="12.14" lengthAdjust="spacingAndGlyphs" font-family='"Liberation Sans", sans-serif' font-weight="bold" font-style="normal" fill="#000" stroke="#000" stroke-width="1.6" stroke-linejoin="round">V</text><g transform="translate(1.40,0)"><text x="560.77" y="302.95" font-size="36.45" textLength="12.14" lengthAdjust="spacingAndGlyphs" font-family='"Liberation Sans", sans-serif' font-weight="bold" font-style="normal" fill="#000" stroke="#000" stroke-width="1.6" stroke-linejoin="round">V</text></g><g transform="translate(-1.40,0)"><text x="577.82" y="302.95" font-size="36.45" textLength="10.13" lengthAdjust="spacingAndGlyphs" font-family='"Liberation Sans", sans-serif' font-weight="bold" font-style="normal" fill="#000" stroke="#000" stroke-width="1.6" stroke-linejoin="round">E</text></g><text x="577.82" y="302.95" font-size="36.45" textLength="10.13" lengthAdjust="spacingAndGlyphs" font-family='"Liberation Sans", sans-serif' font-weight="bold" font-style="normal" fill="#000" stroke="#000" stroke-width="1.6" stroke-linejoin="round">E</text><g transform="translate(1.40,0)"><text x="577.82" y="302.95" font-size="36.45" textLength="10.13" lengthAdjust="spacingAndGlyphs" font-family='"Liberation Sans", sans-serif' font-weight="bold" font-style="normal" fill="#000" stroke="#000" stroke-width="1.6" stroke-linejoin="round">E</text></g><g transform="translate(-1.40,0)"><text x="592.33" y="302.95" font-size="36.45" textLength="4.63" lengthAdjust="spacingAndGlyphs" font-family='"Liberation Sans", sans-serif' font-weight="bold" font-style="normal" fill="#000" stroke="#000" stroke-width="1.6" stroke-linejoin="round">I</text></g><text x="592.33" y="302.95" font-size="36.45" textLength="4.63" lengthAdjust="spacingAndGlyphs" font-family='"Liberation Sans", sans-serif' font-weight="bold" font-style="normal" fill="#000" stroke="#000" stroke-width="1.6" stroke-linejoin="round">I</text><g transform="translate(1.40,0)"><text x="592.33" y="302.95" font-size="36.45" textLength="4.63" lengthAdjust="spacingAndGlyphs" font-family='"Liberation Sans", sans-serif' font-weight="bold" font-style="normal" fill="#000" stroke="#000" stroke-width="1.6" stroke-linejoin="round">I</text></g><g transform="translate(-1.40,0)"><text x="600.86" y="302.95" font-size="36.45" textLength="9.41" lengthAdjust="spacingAndGlyphs" font-family='"Liberation Sans", sans-serif' font-weight="bold" font-style="normal" fill="#000" stroke="#000" stroke-width="1.6" stroke-linejoin="round">L</text></g><text x="600.86" y="302.95" font-size="36.45" textLength="9.41" lengthAdjust="spacingAndGlyphs" font-family='"Liberation Sans", sans-serif' font-weight="bold" font-style="normal" fill="#000" stroke="#000" stroke-width="1.6" stroke-linejoin="round">L</text><g transform="translate(1.40,0)"><text x="600.86" y="302.95" font-size="36.45" textLength="9.41" lengthAdjust="spacingAndGlyphs" font-family='"Liberation Sans", sans-serif' font-weight="bold" font-style="normal" fill="#000" stroke="#000" stroke-width="1.6" stroke-linejoin="round">L</text></g><g transform="translate(-1.40,0)"><text x="614.74" y="302.95" font-size="36.45" textLength="4.63" lengthAdjust="spacingAndGlyphs" font-family='"Liberation Sans", sans-serif' font-weight="bold" font-style="normal" fill="#000" stroke="#000" stroke-width="1.6" stroke-linejoin="round">I</text></g><text x="614.74" y="302.95" font-size="36.45" textLength="4.63" lengthAdjust="spacingAndGlyphs" font-family='"Liberation Sans", sans-serif' font-weight="bold" font-style="normal" fill="#000" stroke="#000" stroke-width="1.6" stroke-linejoin="round">I</text><g transform="translate(1.40,0)"><text x="614.74" y="302.95" font-size="36.45" textLength="4.63" lengthAdjust="spacingAndGlyphs" font-family='"Liberation Sans", sans-serif' font-weight="bold" font-style="normal" fill="#000" stroke="#000" stroke-width="1.6" stroke-linejoin="round">I</text></g><g transform="translate(-1.40,0)"><text x="622.96" y="302.95" font-size="36.45" textLength="14.48" lengthAdjust="spacingAndGlyphs" font-family='"Liberation Sans", sans-serif' font-weight="bold" font-style="normal" fill="#000" stroke="#000" stroke-width="1.6" stroke-linejoin="round">N</text></g><text x="622.96" y="302.95" font-size="36.45" textLength="14.48" lengthAdjust="spacingAndGlyphs" font-family='"Liberation Sans", sans-serif' font-weight="bold" font-style="normal" fill="#000" stroke="#000" stroke-width="1.6" stroke-linejoin="round">N</text><g transform="translate(1.40,0)"><text x="622.96" y="302.95" font-size="36.45" textLength="14.48" lengthAdjust="spacingAndGlyphs" font-family='"Liberation Sans", sans-serif' font-weight="bold" font-style="normal" fill="#000" stroke="#000" stroke-width="1.6" stroke-linejoin="round">N</text></g><g transform="translate(-1.40,0)"><text x="641.45" y="302.60" font-size="35.42" textLength="12.88" lengthAdjust="spacingAndGlyphs" font-family='"Liberation Sans", sans-serif' font-weight="bold" font-style="normal" fill="#000" stroke="#000" stroke-width="1.6" stroke-linejoin="round">G</text></g><text x="641.45" y="302.60" font-size="35.42" textLength="12.88" lengthAdjust="spacingAndGlyphs" font-family='"Liberation Sans", sans-serif' font-weight="bold" font-style="normal" fill="#000" stroke="#000" stroke-width="1.6" stroke-linejoin="round">G</text><g transform="translate(1.40,0)"><text x="641.45" y="302.60" font-size="35.42" textLength="12.88" lengthAdjust="spacingAndGlyphs" font-family='"Liberation Sans", sans-serif' font-weight="bold" font-style="normal" fill="#000" stroke="#000" stroke-width="1.6" stroke-linejoin="round">G</text></g>
<path fill="#000" stroke="#000" stroke-width="0.80" stroke-linejoin="miter" d="M727.40,364.23 L730.12,361.40 L733.44,361.40 L733.44,381.60 L729.93,381.60 L729.93,367.46 L727.40,368.67 Z"/><path fill="#000" stroke="#000" stroke-width="0.80" stroke-linejoin="miter" d="M735.37,364.23 L738.09,361.40 L741.41,361.40 L741.41,381.60 L737.91,381.60 L737.91,367.46 L735.37,368.67 Z"/><g transform="translate(-1.10,0)"><text x="751.94" y="381.20" font-size="28.12" textLength="9.78" lengthAdjust="spacingAndGlyphs" font-family='"Liberation Sans", sans-serif' font-weight="bold" font-style="normal" fill="#000" stroke="#000" stroke-width="1.6" stroke-linejoin="round">K</text></g><text x="751.94" y="381.20" font-size="28.12" textLength="9.78" lengthAdjust="spacingAndGlyphs" font-family='"Liberation Sans", sans-serif' font-weight="bold" font-style="normal" fill="#000" stroke="#000" stroke-width="1.6" stroke-linejoin="round">K</text><g transform="translate(1.10,0)"><text x="751.94" y="381.20" font-size="28.12" textLength="9.78" lengthAdjust="spacingAndGlyphs" font-family='"Liberation Sans", sans-serif' font-weight="bold" font-style="normal" fill="#000" stroke="#000" stroke-width="1.6" stroke-linejoin="round">K</text></g><g transform="translate(-1.10,0)"><text x="765.32" y="381.20" font-size="28.12" textLength="15.00" lengthAdjust="spacingAndGlyphs" font-family='"Liberation Sans", sans-serif' font-weight="bold" font-style="normal" fill="#000" stroke="#000" stroke-width="1.6" stroke-linejoin="round">M</text></g><text x="765.32" y="381.20" font-size="28.12" textLength="15.00" lengthAdjust="spacingAndGlyphs" font-family='"Liberation Sans", sans-serif' font-weight="bold" font-style="normal" fill="#000" stroke="#000" stroke-width="1.6" stroke-linejoin="round">M</text><g transform="translate(1.10,0)"><text x="765.32" y="381.20" font-size="28.12" textLength="15.00" lengthAdjust="spacingAndGlyphs" font-family='"Liberation Sans", sans-serif' font-weight="bold" font-style="normal" fill="#000" stroke="#000" stroke-width="1.6" stroke-linejoin="round">M</text></g>
<g transform="translate(-1.04,0)"><text x="298.18" y="301.00" font-size="26.52" textLength="9.54" lengthAdjust="spacingAndGlyphs" font-family='"Liberation Sans", sans-serif' font-weight="bold" font-style="normal" fill="#000" stroke="#000" stroke-width="1.6" stroke-linejoin="round">R</text></g><text x="298.18" y="301.00" font-size="26.52" textLength="9.54" lengthAdjust="spacingAndGlyphs" font-family='"Liberation Sans", sans-serif' font-weight="bold" font-style="normal" fill="#000" stroke="#000" stroke-width="1.6" stroke-linejoin="round">R</text><g transform="translate(1.04,0)"><text x="298.18" y="301.00" font-size="26.52" textLength="9.54" lengthAdjust="spacingAndGlyphs" font-family='"Liberation Sans", sans-serif' font-weight="bold" font-style="normal" fill="#000" stroke="#000" stroke-width="1.6" stroke-linejoin="round">R</text></g><g transform="translate(-1.04,0)"><text x="311.91" y="300.74" font-size="26.14" textLength="8.49" lengthAdjust="spacingAndGlyphs" font-family='"Liberation Sans", sans-serif' font-weight="bold" font-style="normal" fill="#000" stroke="#000" stroke-width="1.6" stroke-linejoin="round">5</text></g><text x="311.91" y="300.74" font-size="26.14" textLength="8.49" lengthAdjust="spacingAndGlyphs" font-family='"Liberation Sans", sans-serif' font-weight="bold" font-style="normal" fill="#000" stroke="#000" stroke-width="1.6" stroke-linejoin="round">5</text><g transform="translate(1.04,0)"><text x="311.91" y="300.74" font-size="26.14" textLength="8.49" lengthAdjust="spacingAndGlyphs" font-family='"Liberation Sans", sans-serif' font-weight="bold" font-style="normal" fill="#000" stroke="#000" stroke-width="1.6" stroke-linejoin="round">5</text></g><g transform="translate(-1.04,0)"><text x="324.49" y="300.74" font-size="26.14" textLength="8.49" lengthAdjust="spacingAndGlyphs" font-family='"Liberation Sans", sans-serif' font-weight="bold" font-style="normal" fill="#000" stroke="#000" stroke-width="1.6" stroke-linejoin="round">5</text></g><text x="324.49" y="300.74" font-size="26.14" textLength="8.49" lengthAdjust="spacingAndGlyphs" font-family='"Liberation Sans", sans-serif' font-weight="bold" font-style="normal" fill="#000" stroke="#000" stroke-width="1.6" stroke-linejoin="round">5</text><g transform="translate(1.04,0)"><text x="324.49" y="300.74" font-size="26.14" textLength="8.49" lengthAdjust="spacingAndGlyphs" font-family='"Liberation Sans", sans-serif' font-weight="bold" font-style="normal" fill="#000" stroke="#000" stroke-width="1.6" stroke-linejoin="round">5</text></g><g transform="translate(-1.04,0)"><text x="337.07" y="300.74" font-size="26.14" textLength="8.49" lengthAdjust="spacingAndGlyphs" font-family='"Liberation Sans", sans-serif' font-weight="bold" font-style="normal" fill="#000" stroke="#000" stroke-width="1.6" stroke-linejoin="round">5</text></g><text x="337.07" y="300.74" font-size="26.14" textLength="8.49" lengthAdjust="spacingAndGlyphs" font-family='"Liberation Sans", sans-serif' font-weight="bold" font-style="normal" fill="#000" stroke="#000" stroke-width="1.6" stroke-linejoin="round">5</text><g transform="translate(1.04,0)"><text x="337.07" y="300.74" font-size="26.14" textLength="8.49" lengthAdjust="spacingAndGlyphs" font-family='"Liberation Sans", sans-serif' font-weight="bold" font-style="normal" fill="#000" stroke="#000" stroke-width="1.6" stroke-linejoin="round">5</text></g>
<g transform="translate(-1.06,0)"><text x="78.22" y="493.20" font-size="27.10" textLength="9.39" lengthAdjust="spacingAndGlyphs" font-family='"Liberation Sans", sans-serif' font-weight="bold" font-style="normal" fill="#000" stroke="#000" stroke-width="1.6" stroke-linejoin="round">D</text></g><text x="78.22" y="493.20" font-size="27.10" textLength="9.39" lengthAdjust="spacingAndGlyphs" font-family='"Liberation Sans", sans-serif' font-weight="bold" font-style="normal" fill="#000" stroke="#000" stroke-width="1.6" stroke-linejoin="round">D</text><g transform="translate(1.06,0)"><text x="78.22" y="493.20" font-size="27.10" textLength="9.39" lengthAdjust="spacingAndGlyphs" font-family='"Liberation Sans", sans-serif' font-weight="bold" font-style="normal" fill="#000" stroke="#000" stroke-width="1.6" stroke-linejoin="round">D</text></g><g transform="translate(-1.06,0)"><text x="91.31" y="493.20" font-size="27.10" textLength="7.13" lengthAdjust="spacingAndGlyphs" font-family='"Liberation Sans", sans-serif' font-weight="bold" font-style="normal" fill="#000" stroke="#000" stroke-width="1.6" stroke-linejoin="round">E</text></g><text x="91.31" y="493.20" font-size="27.10" textLength="7.13" lengthAdjust="spacingAndGlyphs" font-family='"Liberation Sans", sans-serif' font-weight="bold" font-style="normal" fill="#000" stroke="#000" stroke-width="1.6" stroke-linejoin="round">E</text><g transform="translate(1.06,0)"><text x="91.31" y="493.20" font-size="27.10" textLength="7.13" lengthAdjust="spacingAndGlyphs" font-family='"Liberation Sans", sans-serif' font-weight="bold" font-style="normal" fill="#000" stroke="#000" stroke-width="1.6" stroke-linejoin="round">E</text></g><g transform="translate(-1.06,0)"><text x="102.30" y="493.20" font-size="27.10" textLength="6.59" lengthAdjust="spacingAndGlyphs" font-family='"Liberation Sans", sans-serif' font-weight="bold" font-style="normal" fill="#000" stroke="#000" stroke-width="1.6" stroke-linejoin="round">L</text></g><text x="102.30" y="493.20" font-size="27.10" textLength="6.59" lengthAdjust="spacingAndGlyphs" font-family='"Liberation Sans", sans-serif' font-weight="bold" font-style="normal" fill="#000" stroke="#000" stroke-width="1.6" stroke-linejoin="round">L</text><g transform="translate(1.06,0)"><text x="102.30" y="493.20" font-size="27.10" textLength="6.59" lengthAdjust="spacingAndGlyphs" font-family='"Liberation Sans", sans-serif' font-weight="bold" font-style="normal" fill="#000" stroke="#000" stroke-width="1.6" stroke-linejoin="round">L</text></g><g transform="translate(-1.06,0)"><text x="112.21" y="493.20" font-size="27.10" textLength="16.49" lengthAdjust="spacingAndGlyphs" font-family='"Liberation Sans", sans-serif' font-weight="bold" font-style="normal" fill="#000" stroke="#000" stroke-width="1.6" stroke-linejoin="round">M</text></g><text x="112.21" y="493.20" font-size="27.10" textLength="16.49" lengthAdjust="spacingAndGlyphs" font-family='"Liberation Sans", sans-serif' font-weight="bold" font-style="normal" fill="#000" stroke="#000" stroke-width="1.6" stroke-linejoin="round">M</text><g transform="translate(1.06,0)"><text x="112.21" y="493.20" font-size="27.10" textLength="16.49" lengthAdjust="spacingAndGlyphs" font-family='"Liberation Sans", sans-serif' font-weight="bold" font-style="normal" fill="#000" stroke="#000" stroke-width="1.6" stroke-linejoin="round">M</text></g><g transform="translate(-1.06,0)"><text x="131.97" y="493.20" font-size="27.10" textLength="9.67" lengthAdjust="spacingAndGlyphs" font-family='"Liberation Sans", sans-serif' font-weight="bold" font-style="normal" fill="#000" stroke="#000" stroke-width="1.6" stroke-linejoin="round">A</text></g><text x="131.97" y="493.20" font-size="27.10" textLength="9.67" lengthAdjust="spacingAndGlyphs" font-family='"Liberation Sans", sans-serif' font-weight="bold" font-style="normal" fill="#000" stroke="#000" stroke-width="1.6" stroke-linejoin="round">A</text><g transform="translate(1.06,0)"><text x="131.97" y="493.20" font-size="27.10" textLength="9.67" lengthAdjust="spacingAndGlyphs" font-family='"Liberation Sans", sans-serif' font-weight="bold" font-style="normal" fill="#000" stroke="#000" stroke-width="1.6" stroke-linejoin="round">A</text></g><g transform="translate(-1.06,0)"><text x="145.85" y="492.94" font-size="26.34" textLength="8.35" lengthAdjust="spacingAndGlyphs" font-family='"Liberation Sans", sans-serif' font-weight="bold" font-style="normal" fill="#000" stroke="#000" stroke-width="1.6" stroke-linejoin="round">S</text></g><text x="145.85" y="492.94" font-size="26.34" textLength="8.35" lengthAdjust="spacingAndGlyphs" font-family='"Liberation Sans", sans-serif' font-weight="bold" font-style="normal" fill="#000" stroke="#000" stroke-width="1.6" stroke-linejoin="round">S</text><g transform="translate(1.06,0)"><text x="145.85" y="492.94" font-size="26.34" textLength="8.35" lengthAdjust="spacingAndGlyphs" font-family='"Liberation Sans", sans-serif' font-weight="bold" font-style="normal" fill="#000" stroke="#000" stroke-width="1.6" stroke-linejoin="round">S</text></g>
<g transform="translate(-1.08,0)"><text x="449.44" y="454.70" font-size="27.68" textLength="9.44" lengthAdjust="spacingAndGlyphs" font-family='"Liberation Sans", sans-serif' font-weight="bold" font-style="normal" fill="#000" stroke="#000" stroke-width="1.6" stroke-linejoin="round">R</text></g><text x="449.44" y="454.70" font-size="27.68" textLength="9.44" lengthAdjust="spacingAndGlyphs" font-family='"Liberation Sans", sans-serif' font-weight="bold" font-style="normal" fill="#000" stroke="#000" stroke-width="1.6" stroke-linejoin="round">R</text><g transform="translate(1.08,0)"><text x="449.44" y="454.70" font-size="27.68" textLength="9.44" lengthAdjust="spacingAndGlyphs" font-family='"Liberation Sans", sans-serif' font-weight="bold" font-style="normal" fill="#000" stroke="#000" stroke-width="1.6" stroke-linejoin="round">R</text></g><g transform="translate(-1.08,0)"><text x="463.15" y="454.43" font-size="27.29" textLength="8.39" lengthAdjust="spacingAndGlyphs" font-family='"Liberation Sans", sans-serif' font-weight="bold" font-style="normal" fill="#000" stroke="#000" stroke-width="1.6" stroke-linejoin="round">5</text></g><text x="463.15" y="454.43" font-size="27.29" textLength="8.39" lengthAdjust="spacingAndGlyphs" font-family='"Liberation Sans", sans-serif' font-weight="bold" font-style="normal" fill="#000" stroke="#000" stroke-width="1.6" stroke-linejoin="round">5</text><g transform="translate(1.08,0)"><text x="463.15" y="454.43" font-size="27.29" textLength="8.39" lengthAdjust="spacingAndGlyphs" font-family='"Liberation Sans", sans-serif' font-weight="bold" font-style="normal" fill="#000" stroke="#000" stroke-width="1.6" stroke-linejoin="round">5</text></g><g transform="translate(-1.08,0)"><text x="475.54" y="454.43" font-size="26.90" textLength="8.83" lengthAdjust="spacingAndGlyphs" font-family='"Liberation Sans", sans-serif' font-weight="bold" font-style="normal" fill="#000" stroke="#000" stroke-width="1.6" stroke-linejoin="round">0</text></g><text x="475.54" y="454.43" font-size="26.90" textLength="8.83" lengthAdjust="spacingAndGlyphs" font-family='"Liberation Sans", sans-serif' font-weight="bold" font-style="normal" fill="#000" stroke="#000" stroke-width="1.6" stroke-linejoin="round">0</text><g transform="translate(1.08,0)"><text x="475.54" y="454.43" font-size="26.90" textLength="8.83" lengthAdjust="spacingAndGlyphs" font-family='"Liberation Sans", sans-serif' font-weight="bold" font-style="normal" fill="#000" stroke="#000" stroke-width="1.6" stroke-linejoin="round">0</text></g>
<g transform="translate(-1.02,0)"><text x="1074.87" y="311.70" font-size="25.94" textLength="14.79" lengthAdjust="spacingAndGlyphs" font-family='"Liberation Sans", sans-serif' font-weight="bold" font-style="normal" fill="#000" stroke="#000" stroke-width="1.6" stroke-linejoin="round">M</text></g><text x="1074.87" y="311.70" font-size="25.94" textLength="14.79" lengthAdjust="spacingAndGlyphs" font-family='"Liberation Sans", sans-serif' font-weight="bold" font-style="normal" fill="#000" stroke="#000" stroke-width="1.6" stroke-linejoin="round">M</text><g transform="translate(1.02,0)"><text x="1074.87" y="311.70" font-size="25.94" textLength="14.79" lengthAdjust="spacingAndGlyphs" font-family='"Liberation Sans", sans-serif' font-weight="bold" font-style="normal" fill="#000" stroke="#000" stroke-width="1.6" stroke-linejoin="round">M</text></g><g transform="translate(-1.02,0)"><text x="1092.91" y="311.70" font-size="25.94" textLength="8.58" lengthAdjust="spacingAndGlyphs" font-family='"Liberation Sans", sans-serif' font-weight="bold" font-style="normal" fill="#000" stroke="#000" stroke-width="1.6" stroke-linejoin="round">A</text></g><text x="1092.91" y="311.70" font-size="25.94" textLength="8.58" lengthAdjust="spacingAndGlyphs" font-family='"Liberation Sans", sans-serif' font-weight="bold" font-style="normal" fill="#000" stroke="#000" stroke-width="1.6" stroke-linejoin="round">A</text><g transform="translate(1.02,0)"><text x="1092.91" y="311.70" font-size="25.94" textLength="8.58" lengthAdjust="spacingAndGlyphs" font-family='"Liberation Sans", sans-serif' font-weight="bold" font-style="normal" fill="#000" stroke="#000" stroke-width="1.6" stroke-linejoin="round">A</text></g><g transform="translate(-1.02,0)"><text x="1105.32" y="311.70" font-size="25.94" textLength="5.74" lengthAdjust="spacingAndGlyphs" font-family='"Liberation Sans", sans-serif' font-weight="bold" font-style="normal" fill="#000" stroke="#000" stroke-width="1.6" stroke-linejoin="round">L</text></g><text x="1105.32" y="311.70" font-size="25.94" textLength="5.74" lengthAdjust="spacingAndGlyphs" font-family='"Liberation Sans", sans-serif' font-weight="bold" font-style="normal" fill="#000" stroke="#000" stroke-width="1.6" stroke-linejoin="round">L</text><g transform="translate(1.02,0)"><text x="1105.32" y="311.70" font-size="25.94" textLength="5.74" lengthAdjust="spacingAndGlyphs" font-family='"Liberation Sans", sans-serif' font-weight="bold" font-style="normal" fill="#000" stroke="#000" stroke-width="1.6" stroke-linejoin="round">L</text></g><g transform="translate(-1.02,0)"><text x="1115.42" y="311.70" font-size="25.94" textLength="6.86" lengthAdjust="spacingAndGlyphs" font-family='"Liberation Sans", sans-serif' font-weight="bold" font-style="normal" fill="#000" stroke="#000" stroke-width="1.6" stroke-linejoin="round">T</text></g><text x="1115.42" y="311.70" font-size="25.94" textLength="6.86" lengthAdjust="spacingAndGlyphs" font-family='"Liberation Sans", sans-serif' font-weight="bold" font-style="normal" fill="#000" stroke="#000" stroke-width="1.6" stroke-linejoin="round">T</text><g transform="translate(1.02,0)"><text x="1115.42" y="311.70" font-size="25.94" textLength="6.86" lengthAdjust="spacingAndGlyphs" font-family='"Liberation Sans", sans-serif' font-weight="bold" font-style="normal" fill="#000" stroke="#000" stroke-width="1.6" stroke-linejoin="round">T</text></g><g transform="translate(-1.02,0)"><text x="1126.62" y="311.70" font-size="25.94" textLength="8.58" lengthAdjust="spacingAndGlyphs" font-family='"Liberation Sans", sans-serif' font-weight="bold" font-style="normal" fill="#000" stroke="#000" stroke-width="1.6" stroke-linejoin="round">A</text></g><text x="1126.62" y="311.70" font-size="25.94" textLength="8.58" lengthAdjust="spacingAndGlyphs" font-family='"Liberation Sans", sans-serif' font-weight="bold" font-style="normal" fill="#000" stroke="#000" stroke-width="1.6" stroke-linejoin="round">A</text><g transform="translate(1.02,0)"><text x="1126.62" y="311.70" font-size="25.94" textLength="8.58" lengthAdjust="spacingAndGlyphs" font-family='"Liberation Sans", sans-serif' font-weight="bold" font-style="normal" fill="#000" stroke="#000" stroke-width="1.6" stroke-linejoin="round">A</text></g>
<g transform="translate(-1.05,0)"><text x="1035.70" y="467.90" font-size="26.81" textLength="9.47" lengthAdjust="spacingAndGlyphs" font-family='"Liberation Sans", sans-serif' font-weight="bold" font-style="normal" fill="#000" stroke="#000" stroke-width="1.6" stroke-linejoin="round">R</text></g><text x="1035.70" y="467.90" font-size="26.81" textLength="9.47" lengthAdjust="spacingAndGlyphs" font-family='"Liberation Sans", sans-serif' font-weight="bold" font-style="normal" fill="#000" stroke="#000" stroke-width="1.6" stroke-linejoin="round">R</text><g transform="translate(1.05,0)"><text x="1035.70" y="467.90" font-size="26.81" textLength="9.47" lengthAdjust="spacingAndGlyphs" font-family='"Liberation Sans", sans-serif' font-weight="bold" font-style="normal" fill="#000" stroke="#000" stroke-width="1.6" stroke-linejoin="round">R</text></g><g transform="translate(-1.05,0)"><text x="1049.38" y="467.64" font-size="26.43" textLength="8.43" lengthAdjust="spacingAndGlyphs" font-family='"Liberation Sans", sans-serif' font-weight="bold" font-style="normal" fill="#000" stroke="#000" stroke-width="1.6" stroke-linejoin="round">5</text></g><text x="1049.38" y="467.64" font-size="26.43" textLength="8.43" lengthAdjust="spacingAndGlyphs" font-family='"Liberation Sans", sans-serif' font-weight="bold" font-style="normal" fill="#000" stroke="#000" stroke-width="1.6" stroke-linejoin="round">5</text><g transform="translate(1.05,0)"><text x="1049.38" y="467.64" font-size="26.43" textLength="8.43" lengthAdjust="spacingAndGlyphs" font-family='"Liberation Sans", sans-serif' font-weight="bold" font-style="normal" fill="#000" stroke="#000" stroke-width="1.6" stroke-linejoin="round">5</text></g><g transform="translate(-1.05,0)"><text x="1061.73" y="467.64" font-size="26.06" textLength="8.87" lengthAdjust="spacingAndGlyphs" font-family='"Liberation Sans", sans-serif' font-weight="bold" font-style="normal" fill="#000" stroke="#000" stroke-width="1.6" stroke-linejoin="round">0</text></g><text x="1061.73" y="467.64" font-size="26.06" textLength="8.87" lengthAdjust="spacingAndGlyphs" font-family='"Liberation Sans", sans-serif' font-weight="bold" font-style="normal" fill="#000" stroke="#000" stroke-width="1.6" stroke-linejoin="round">0</text><g transform="translate(1.05,0)"><text x="1061.73" y="467.64" font-size="26.06" textLength="8.87" lengthAdjust="spacingAndGlyphs" font-family='"Liberation Sans", sans-serif' font-weight="bold" font-style="normal" fill="#000" stroke="#000" stroke-width="1.6" stroke-linejoin="round">0</text></g>
<g transform="translate(-1.04,0)"><text x="1137.83" y="511.80" font-size="26.38" textLength="6.60" lengthAdjust="spacingAndGlyphs" font-family='"Liberation Sans", sans-serif' font-weight="bold" font-style="normal" fill="#000" stroke="#000" stroke-width="1.6" stroke-linejoin="round">L</text></g><text x="1137.83" y="511.80" font-size="26.38" textLength="6.60" lengthAdjust="spacingAndGlyphs" font-family='"Liberation Sans", sans-serif' font-weight="bold" font-style="normal" fill="#000" stroke="#000" stroke-width="1.6" stroke-linejoin="round">L</text><g transform="translate(1.04,0)"><text x="1137.83" y="511.80" font-size="26.38" textLength="6.60" lengthAdjust="spacingAndGlyphs" font-family='"Liberation Sans", sans-serif' font-weight="bold" font-style="normal" fill="#000" stroke="#000" stroke-width="1.6" stroke-linejoin="round">L</text></g><g transform="translate(-1.04,0)"><text x="1148.30" y="511.80" font-size="26.38" textLength="7.14" lengthAdjust="spacingAndGlyphs" font-family='"Liberation Sans", sans-serif' font-weight="bold" font-style="normal" fill="#000" stroke="#000" stroke-width="1.6" stroke-linejoin="round">E</text></g><text x="1148.30" y="511.80" font-size="26.38" textLength="7.14" lengthAdjust="spacingAndGlyphs" font-family='"Liberation Sans", sans-serif' font-weight="bold" font-style="normal" fill="#000" stroke="#000" stroke-width="1.6" stroke-linejoin="round">E</text><g transform="translate(1.04,0)"><text x="1148.30" y="511.80" font-size="26.38" textLength="7.14" lengthAdjust="spacingAndGlyphs" font-family='"Liberation Sans", sans-serif' font-weight="bold" font-style="normal" fill="#000" stroke="#000" stroke-width="1.6" stroke-linejoin="round">E</text></g><g transform="translate(-1.04,0)"><text x="1159.56" y="511.54" font-size="25.63" textLength="8.35" lengthAdjust="spacingAndGlyphs" font-family='"Liberation Sans", sans-serif' font-weight="bold" font-style="normal" fill="#000" stroke="#000" stroke-width="1.6" stroke-linejoin="round">S</text></g><text x="1159.56" y="511.54" font-size="25.63" textLength="8.35" lengthAdjust="spacingAndGlyphs" font-family='"Liberation Sans", sans-serif' font-weight="bold" font-style="normal" fill="#000" stroke="#000" stroke-width="1.6" stroke-linejoin="round">S</text><g transform="translate(1.04,0)"><text x="1159.56" y="511.54" font-size="25.63" textLength="8.35" lengthAdjust="spacingAndGlyphs" font-family='"Liberation Sans", sans-serif' font-weight="bold" font-style="normal" fill="#000" stroke="#000" stroke-width="1.6" stroke-linejoin="round">S</text></g><g transform="translate(-1.04,0)"><text x="1171.63" y="511.80" font-size="26.38" textLength="6.60" lengthAdjust="spacingAndGlyphs" font-family='"Liberation Sans", sans-serif' font-weight="bold" font-style="normal" fill="#000" stroke="#000" stroke-width="1.6" stroke-linejoin="round">L</text></g><text x="1171.63" y="511.80" font-size="26.38" textLength="6.60" lengthAdjust="spacingAndGlyphs" font-family='"Liberation Sans", sans-serif' font-weight="bold" font-style="normal" fill="#000" stroke="#000" stroke-width="1.6" stroke-linejoin="round">L</text><g transform="translate(1.04,0)"><text x="1171.63" y="511.80" font-size="26.38" textLength="6.60" lengthAdjust="spacingAndGlyphs" font-family='"Liberation Sans", sans-serif' font-weight="bold" font-style="normal" fill="#000" stroke="#000" stroke-width="1.6" stroke-linejoin="round">L</text></g><g transform="translate(-1.04,0)"><text x="1182.15" y="511.80" font-size="26.38" textLength="2.74" lengthAdjust="spacingAndGlyphs" font-family='"Liberation Sans", sans-serif' font-weight="bold" font-style="normal" fill="#000" stroke="#000" stroke-width="1.6" stroke-linejoin="round">I</text></g><text x="1182.15" y="511.80" font-size="26.38" textLength="2.74" lengthAdjust="spacingAndGlyphs" font-family='"Liberation Sans", sans-serif' font-weight="bold" font-style="normal" fill="#000" stroke="#000" stroke-width="1.6" stroke-linejoin="round">I</text><g transform="translate(1.04,0)"><text x="1182.15" y="511.80" font-size="26.38" textLength="2.74" lengthAdjust="spacingAndGlyphs" font-family='"Liberation Sans", sans-serif' font-weight="bold" font-style="normal" fill="#000" stroke="#000" stroke-width="1.6" stroke-linejoin="round">I</text></g><g transform="translate(-1.04,0)"><text x="1188.42" y="511.80" font-size="26.38" textLength="7.14" lengthAdjust="spacingAndGlyphs" font-family='"Liberation Sans", sans-serif' font-weight="bold" font-style="normal" fill="#000" stroke="#000" stroke-width="1.6" stroke-linejoin="round">E</text></g><text x="1188.42" y="511.80" font-size="26.38" textLength="7.14" lengthAdjust="spacingAndGlyphs" font-family='"Liberation Sans", sans-serif' font-weight="bold" font-style="normal" fill="#000" stroke="#000" stroke-width="1.6" stroke-linejoin="round">E</text><g transform="translate(1.04,0)"><text x="1188.42" y="511.80" font-size="26.38" textLength="7.14" lengthAdjust="spacingAndGlyphs" font-family='"Liberation Sans", sans-serif' font-weight="bold" font-style="normal" fill="#000" stroke="#000" stroke-width="1.6" stroke-linejoin="round">E</text></g>
<g transform="translate(-1.00,0)"><text x="296.43" y="583.70" font-size="25.36" textLength="9.70" lengthAdjust="spacingAndGlyphs" font-family='"Liberation Sans", sans-serif' font-weight="bold" font-style="normal" fill="#000" stroke="#000" stroke-width="1.6" stroke-linejoin="round">R</text></g><text x="296.43" y="583.70" font-size="25.36" textLength="9.70" lengthAdjust="spacingAndGlyphs" font-family='"Liberation Sans", sans-serif' font-weight="bold" font-style="normal" fill="#000" stroke="#000" stroke-width="1.6" stroke-linejoin="round">R</text><g transform="translate(1.00,0)"><text x="296.43" y="583.70" font-size="25.36" textLength="9.70" lengthAdjust="spacingAndGlyphs" font-family='"Liberation Sans", sans-serif' font-weight="bold" font-style="normal" fill="#000" stroke="#000" stroke-width="1.6" stroke-linejoin="round">R</text></g><g transform="translate(-1.00,0)"><text x="310.23" y="583.45" font-size="25.00" textLength="8.65" lengthAdjust="spacingAndGlyphs" font-family='"Liberation Sans", sans-serif' font-weight="bold" font-style="normal" fill="#000" stroke="#000" stroke-width="1.6" stroke-linejoin="round">5</text></g><text x="310.23" y="583.45" font-size="25.00" textLength="8.65" lengthAdjust="spacingAndGlyphs" font-family='"Liberation Sans", sans-serif' font-weight="bold" font-style="normal" fill="#000" stroke="#000" stroke-width="1.6" stroke-linejoin="round">5</text><g transform="translate(1.00,0)"><text x="310.23" y="583.45" font-size="25.00" textLength="8.65" lengthAdjust="spacingAndGlyphs" font-family='"Liberation Sans", sans-serif' font-weight="bold" font-style="normal" fill="#000" stroke="#000" stroke-width="1.6" stroke-linejoin="round">5</text></g><g transform="translate(-1.00,0)"><text x="323.09" y="583.70" font-size="25.36" textLength="8.87" lengthAdjust="spacingAndGlyphs" font-family='"Liberation Sans", sans-serif' font-weight="bold" font-style="normal" fill="#000" stroke="#000" stroke-width="1.6" stroke-linejoin="round">4</text></g><text x="323.09" y="583.70" font-size="25.36" textLength="8.87" lengthAdjust="spacingAndGlyphs" font-family='"Liberation Sans", sans-serif' font-weight="bold" font-style="normal" fill="#000" stroke="#000" stroke-width="1.6" stroke-linejoin="round">4</text><g transform="translate(1.00,0)"><text x="323.09" y="583.70" font-size="25.36" textLength="8.87" lengthAdjust="spacingAndGlyphs" font-family='"Liberation Sans", sans-serif' font-weight="bold" font-style="normal" fill="#000" stroke="#000" stroke-width="1.6" stroke-linejoin="round">4</text></g><g transform="translate(-1.00,0)"><text x="336.26" y="583.45" font-size="24.65" textLength="8.73" lengthAdjust="spacingAndGlyphs" font-family='"Liberation Sans", sans-serif' font-weight="bold" font-style="normal" fill="#000" stroke="#000" stroke-width="1.6" stroke-linejoin="round">8</text></g><text x="336.26" y="583.45" font-size="24.65" textLength="8.73" lengthAdjust="spacingAndGlyphs" font-family='"Liberation Sans", sans-serif' font-weight="bold" font-style="normal" fill="#000" stroke="#000" stroke-width="1.6" stroke-linejoin="round">8</text><g transform="translate(1.00,0)"><text x="336.26" y="583.45" font-size="24.65" textLength="8.73" lengthAdjust="spacingAndGlyphs" font-family='"Liberation Sans", sans-serif' font-weight="bold" font-style="normal" fill="#000" stroke="#000" stroke-width="1.6" stroke-linejoin="round">8</text></g>
<g transform="translate(-1.07,0)"><text x="549.48" y="625.20" font-size="27.25" textLength="8.78" lengthAdjust="spacingAndGlyphs" font-family='"Liberation Sans", sans-serif' font-weight="bold" font-style="normal" fill="#000" stroke="#000" stroke-width="1.6" stroke-linejoin="round">D</text></g><text x="549.48" y="625.20" font-size="27.25" textLength="8.78" lengthAdjust="spacingAndGlyphs" font-family='"Liberation Sans", sans-serif' font-weight="bold" font-style="normal" fill="#000" stroke="#000" stroke-width="1.6" stroke-linejoin="round">D</text><g transform="translate(1.07,0)"><text x="549.48" y="625.20" font-size="27.25" textLength="8.78" lengthAdjust="spacingAndGlyphs" font-family='"Liberation Sans", sans-serif' font-weight="bold" font-style="normal" fill="#000" stroke="#000" stroke-width="1.6" stroke-linejoin="round">D</text></g><g transform="translate(-1.07,0)"><text x="562.00" y="625.20" font-size="27.25" textLength="6.62" lengthAdjust="spacingAndGlyphs" font-family='"Liberation Sans", sans-serif' font-weight="bold" font-style="normal" fill="#000" stroke="#000" stroke-width="1.6" stroke-linejoin="round">E</text></g><text x="562.00" y="625.20" font-size="27.25" textLength="6.62" lengthAdjust="spacingAndGlyphs" font-family='"Liberation Sans", sans-serif' font-weight="bold" font-style="normal" fill="#000" stroke="#000" stroke-width="1.6" stroke-linejoin="round">E</text><g transform="translate(1.07,0)"><text x="562.00" y="625.20" font-size="27.25" textLength="6.62" lengthAdjust="spacingAndGlyphs" font-family='"Liberation Sans", sans-serif' font-weight="bold" font-style="normal" fill="#000" stroke="#000" stroke-width="1.6" stroke-linejoin="round">E</text></g><g transform="translate(-1.07,0)"><text x="573.04" y="625.20" font-size="27.25" textLength="8.15" lengthAdjust="spacingAndGlyphs" font-family='"Liberation Sans", sans-serif' font-weight="bold" font-style="normal" fill="#000" stroke="#000" stroke-width="1.6" stroke-linejoin="round">V</text></g><text x="573.04" y="625.20" font-size="27.25" textLength="8.15" lengthAdjust="spacingAndGlyphs" font-family='"Liberation Sans", sans-serif' font-weight="bold" font-style="normal" fill="#000" stroke="#000" stroke-width="1.6" stroke-linejoin="round">V</text><g transform="translate(1.07,0)"><text x="573.04" y="625.20" font-size="27.25" textLength="8.15" lengthAdjust="spacingAndGlyphs" font-family='"Liberation Sans", sans-serif' font-weight="bold" font-style="normal" fill="#000" stroke="#000" stroke-width="1.6" stroke-linejoin="round">V</text></g><g transform="translate(-1.07,0)"><text x="585.58" y="624.94" font-size="26.48" textLength="8.37" lengthAdjust="spacingAndGlyphs" font-family='"Liberation Sans", sans-serif' font-weight="bold" font-style="normal" fill="#000" stroke="#000" stroke-width="1.6" stroke-linejoin="round">O</text></g><text x="585.58" y="624.94" font-size="26.48" textLength="8.37" lengthAdjust="spacingAndGlyphs" font-family='"Liberation Sans", sans-serif' font-weight="bold" font-style="normal" fill="#000" stroke="#000" stroke-width="1.6" stroke-linejoin="round">O</text><g transform="translate(1.07,0)"><text x="585.58" y="624.94" font-size="26.48" textLength="8.37" lengthAdjust="spacingAndGlyphs" font-family='"Liberation Sans", sans-serif' font-weight="bold" font-style="normal" fill="#000" stroke="#000" stroke-width="1.6" stroke-linejoin="round">O</text></g><g transform="translate(-1.07,0)"><text x="597.51" y="625.20" font-size="27.25" textLength="9.72" lengthAdjust="spacingAndGlyphs" font-family='"Liberation Sans", sans-serif' font-weight="bold" font-style="normal" fill="#000" stroke="#000" stroke-width="1.6" stroke-linejoin="round">N</text></g><text x="597.51" y="625.20" font-size="27.25" textLength="9.72" lengthAdjust="spacingAndGlyphs" font-family='"Liberation Sans", sans-serif' font-weight="bold" font-style="normal" fill="#000" stroke="#000" stroke-width="1.6" stroke-linejoin="round">N</text><g transform="translate(1.07,0)"><text x="597.51" y="625.20" font-size="27.25" textLength="9.72" lengthAdjust="spacingAndGlyphs" font-family='"Liberation Sans", sans-serif' font-weight="bold" font-style="normal" fill="#000" stroke="#000" stroke-width="1.6" stroke-linejoin="round">N</text></g>
<g transform="translate(-1.14,0)"><text x="865.68" y="584.70" font-size="29.13" textLength="9.46" lengthAdjust="spacingAndGlyphs" font-family='"Liberation Sans", sans-serif' font-weight="bold" font-style="normal" fill="#000" stroke="#000" stroke-width="1.6" stroke-linejoin="round">R</text></g><text x="865.68" y="584.70" font-size="29.13" textLength="9.46" lengthAdjust="spacingAndGlyphs" font-family='"Liberation Sans", sans-serif' font-weight="bold" font-style="normal" fill="#000" stroke="#000" stroke-width="1.6" stroke-linejoin="round">R</text><g transform="translate(1.14,0)"><text x="865.68" y="584.70" font-size="29.13" textLength="9.46" lengthAdjust="spacingAndGlyphs" font-family='"Liberation Sans", sans-serif' font-weight="bold" font-style="normal" fill="#000" stroke="#000" stroke-width="1.6" stroke-linejoin="round">R</text></g><g transform="translate(-1.14,0)"><text x="879.45" y="584.70" font-size="28.71" textLength="8.76" lengthAdjust="spacingAndGlyphs" font-family='"Liberation Sans", sans-serif' font-weight="bold" font-style="normal" fill="#000" stroke="#000" stroke-width="1.6" stroke-linejoin="round">2</text></g><text x="879.45" y="584.70" font-size="28.71" textLength="8.76" lengthAdjust="spacingAndGlyphs" font-family='"Liberation Sans", sans-serif' font-weight="bold" font-style="normal" fill="#000" stroke="#000" stroke-width="1.6" stroke-linejoin="round">2</text><g transform="translate(1.14,0)"><text x="879.45" y="584.70" font-size="28.71" textLength="8.76" lengthAdjust="spacingAndGlyphs" font-family='"Liberation Sans", sans-serif' font-weight="bold" font-style="normal" fill="#000" stroke="#000" stroke-width="1.6" stroke-linejoin="round">2</text></g><g transform="translate(-1.14,0)"><text x="892.16" y="584.42" font-size="28.31" textLength="8.67" lengthAdjust="spacingAndGlyphs" font-family='"Liberation Sans", sans-serif' font-weight="bold" font-style="normal" fill="#000" stroke="#000" stroke-width="1.6" stroke-linejoin="round">9</text></g><text x="892.16" y="584.42" font-size="28.31" textLength="8.67" lengthAdjust="spacingAndGlyphs" font-family='"Liberation Sans", sans-serif' font-weight="bold" font-style="normal" fill="#000" stroke="#000" stroke-width="1.6" stroke-linejoin="round">9</text><g transform="translate(1.14,0)"><text x="892.16" y="584.42" font-size="28.31" textLength="8.67" lengthAdjust="spacingAndGlyphs" font-family='"Liberation Sans", sans-serif' font-weight="bold" font-style="normal" fill="#000" stroke="#000" stroke-width="1.6" stroke-linejoin="round">9</text></g>
<g transform="translate(-1.08,0)"><text x="802.77" y="681.60" font-size="27.54" textLength="9.03" lengthAdjust="spacingAndGlyphs" font-family='"Liberation Sans", sans-serif' font-weight="bold" font-style="normal" fill="#000" stroke="#000" stroke-width="1.6" stroke-linejoin="round">R</text></g><text x="802.77" y="681.60" font-size="27.54" textLength="9.03" lengthAdjust="spacingAndGlyphs" font-family='"Liberation Sans", sans-serif' font-weight="bold" font-style="normal" fill="#000" stroke="#000" stroke-width="1.6" stroke-linejoin="round">R</text><g transform="translate(1.08,0)"><text x="802.77" y="681.60" font-size="27.54" textLength="9.03" lengthAdjust="spacingAndGlyphs" font-family='"Liberation Sans", sans-serif' font-weight="bold" font-style="normal" fill="#000" stroke="#000" stroke-width="1.6" stroke-linejoin="round">R</text></g><g transform="translate(-1.08,0)"><text x="816.07" y="681.33" font-size="27.14" textLength="8.02" lengthAdjust="spacingAndGlyphs" font-family='"Liberation Sans", sans-serif' font-weight="bold" font-style="normal" fill="#000" stroke="#000" stroke-width="1.6" stroke-linejoin="round">5</text></g><text x="816.07" y="681.33" font-size="27.14" textLength="8.02" lengthAdjust="spacingAndGlyphs" font-family='"Liberation Sans", sans-serif' font-weight="bold" font-style="normal" fill="#000" stroke="#000" stroke-width="1.6" stroke-linejoin="round">5</text><g transform="translate(1.08,0)"><text x="816.07" y="681.33" font-size="27.14" textLength="8.02" lengthAdjust="spacingAndGlyphs" font-family='"Liberation Sans", sans-serif' font-weight="bold" font-style="normal" fill="#000" stroke="#000" stroke-width="1.6" stroke-linejoin="round">5</text></g><g transform="translate(-1.08,0)"><text x="828.47" y="681.60" font-size="27.54" textLength="8.26" lengthAdjust="spacingAndGlyphs" font-family='"Liberation Sans", sans-serif' font-weight="bold" font-style="normal" fill="#000" stroke="#000" stroke-width="1.6" stroke-linejoin="round">4</text></g><text x="828.47" y="681.60" font-size="27.54" textLength="8.26" lengthAdjust="spacingAndGlyphs" font-family='"Liberation Sans", sans-serif' font-weight="bold" font-style="normal" fill="#000" stroke="#000" stroke-width="1.6" stroke-linejoin="round">4</text><g transform="translate(1.08,0)"><text x="828.47" y="681.60" font-size="27.54" textLength="8.26" lengthAdjust="spacingAndGlyphs" font-family='"Liberation Sans", sans-serif' font-weight="bold" font-style="normal" fill="#000" stroke="#000" stroke-width="1.6" stroke-linejoin="round">4</text></g><g transform="translate(-1.08,0)"><text x="841.17" y="681.33" font-size="26.76" textLength="8.10" lengthAdjust="spacingAndGlyphs" font-family='"Liberation Sans", sans-serif' font-weight="bold" font-style="normal" fill="#000" stroke="#000" stroke-width="1.6" stroke-linejoin="round">8</text></g><text x="841.17" y="681.33" font-size="26.76" textLength="8.10" lengthAdjust="spacingAndGlyphs" font-family='"Liberation Sans", sans-serif' font-weight="bold" font-style="normal" fill="#000" stroke="#000" stroke-width="1.6" stroke-linejoin="round">8</text><g transform="translate(1.08,0)"><text x="841.17" y="681.33" font-size="26.76" textLength="8.10" lengthAdjust="spacingAndGlyphs" font-family='"Liberation Sans", sans-serif' font-weight="bold" font-style="normal" fill="#000" stroke="#000" stroke-width="1.6" stroke-linejoin="round">8</text></g>
<g transform="translate(-1.08,0)"><text x="103.42" y="717.93" font-size="26.76" textLength="8.05" lengthAdjust="spacingAndGlyphs" font-family='"Liberation Sans", sans-serif' font-weight="bold" font-style="normal" fill="#000" stroke="#000" stroke-width="1.6" stroke-linejoin="round">S</text></g><text x="103.42" y="717.93" font-size="26.76" textLength="8.05" lengthAdjust="spacingAndGlyphs" font-family='"Liberation Sans", sans-serif' font-weight="bold" font-style="normal" fill="#000" stroke="#000" stroke-width="1.6" stroke-linejoin="round">S</text><g transform="translate(1.08,0)"><text x="103.42" y="717.93" font-size="26.76" textLength="8.05" lengthAdjust="spacingAndGlyphs" font-family='"Liberation Sans", sans-serif' font-weight="bold" font-style="normal" fill="#000" stroke="#000" stroke-width="1.6" stroke-linejoin="round">S</text></g><g transform="translate(-1.08,0)"><text x="115.15" y="718.20" font-size="27.54" textLength="8.47" lengthAdjust="spacingAndGlyphs" font-family='"Liberation Sans", sans-serif' font-weight="bold" font-style="normal" fill="#000" stroke="#000" stroke-width="1.6" stroke-linejoin="round">P</text></g><text x="115.15" y="718.20" font-size="27.54" textLength="8.47" lengthAdjust="spacingAndGlyphs" font-family='"Liberation Sans", sans-serif' font-weight="bold" font-style="normal" fill="#000" stroke="#000" stroke-width="1.6" stroke-linejoin="round">P</text><g transform="translate(1.08,0)"><text x="115.15" y="718.20" font-size="27.54" textLength="8.47" lengthAdjust="spacingAndGlyphs" font-family='"Liberation Sans", sans-serif' font-weight="bold" font-style="normal" fill="#000" stroke="#000" stroke-width="1.6" stroke-linejoin="round">P</text></g><g transform="translate(-1.08,0)"><text x="127.38" y="718.20" font-size="27.54" textLength="8.78" lengthAdjust="spacingAndGlyphs" font-family='"Liberation Sans", sans-serif' font-weight="bold" font-style="normal" fill="#000" stroke="#000" stroke-width="1.6" stroke-linejoin="round">R</text></g><text x="127.38" y="718.20" font-size="27.54" textLength="8.78" lengthAdjust="spacingAndGlyphs" font-family='"Liberation Sans", sans-serif' font-weight="bold" font-style="normal" fill="#000" stroke="#000" stroke-width="1.6" stroke-linejoin="round">R</text><g transform="translate(1.08,0)"><text x="127.38" y="718.20" font-size="27.54" textLength="8.78" lengthAdjust="spacingAndGlyphs" font-family='"Liberation Sans", sans-serif' font-weight="bold" font-style="normal" fill="#000" stroke="#000" stroke-width="1.6" stroke-linejoin="round">R</text></g><g transform="translate(-1.08,0)"><text x="140.27" y="718.20" font-size="27.54" textLength="2.42" lengthAdjust="spacingAndGlyphs" font-family='"Liberation Sans", sans-serif' font-weight="bold" font-style="normal" fill="#000" stroke="#000" stroke-width="1.6" stroke-linejoin="round">I</text></g><text x="140.27" y="718.20" font-size="27.54" textLength="2.42" lengthAdjust="spacingAndGlyphs" font-family='"Liberation Sans", sans-serif' font-weight="bold" font-style="normal" fill="#000" stroke="#000" stroke-width="1.6" stroke-linejoin="round">I</text><g transform="translate(1.08,0)"><text x="140.27" y="718.20" font-size="27.54" textLength="2.42" lengthAdjust="spacingAndGlyphs" font-family='"Liberation Sans", sans-serif' font-weight="bold" font-style="normal" fill="#000" stroke="#000" stroke-width="1.6" stroke-linejoin="round">I</text></g><g transform="translate(-1.08,0)"><text x="146.15" y="718.20" font-size="27.54" textLength="10.03" lengthAdjust="spacingAndGlyphs" font-family='"Liberation Sans", sans-serif' font-weight="bold" font-style="normal" fill="#000" stroke="#000" stroke-width="1.6" stroke-linejoin="round">N</text></g><text x="146.15" y="718.20" font-size="27.54" textLength="10.03" lengthAdjust="spacingAndGlyphs" font-family='"Liberation Sans", sans-serif' font-weight="bold" font-style="normal" fill="#000" stroke="#000" stroke-width="1.6" stroke-linejoin="round">N</text><g transform="translate(1.08,0)"><text x="146.15" y="718.20" font-size="27.54" textLength="10.03" lengthAdjust="spacingAndGlyphs" font-family='"Liberation Sans", sans-serif' font-weight="bold" font-style="normal" fill="#000" stroke="#000" stroke-width="1.6" stroke-linejoin="round">N</text></g><g transform="translate(-1.08,0)"><text x="159.75" y="717.93" font-size="26.76" textLength="8.89" lengthAdjust="spacingAndGlyphs" font-family='"Liberation Sans", sans-serif' font-weight="bold" font-style="normal" fill="#000" stroke="#000" stroke-width="1.6" stroke-linejoin="round">G</text></g><text x="159.75" y="717.93" font-size="26.76" textLength="8.89" lengthAdjust="spacingAndGlyphs" font-family='"Liberation Sans", sans-serif' font-weight="bold" font-style="normal" fill="#000" stroke="#000" stroke-width="1.6" stroke-linejoin="round">G</text><g transform="translate(1.08,0)"><text x="159.75" y="717.93" font-size="26.76" textLength="8.89" lengthAdjust="spacingAndGlyphs" font-family='"Liberation Sans", sans-serif' font-weight="bold" font-style="normal" fill="#000" stroke="#000" stroke-width="1.6" stroke-linejoin="round">G</text></g><g transform="translate(-1.08,0)"><text x="172.52" y="717.93" font-size="26.76" textLength="8.05" lengthAdjust="spacingAndGlyphs" font-family='"Liberation Sans", sans-serif' font-weight="bold" font-style="normal" fill="#000" stroke="#000" stroke-width="1.6" stroke-linejoin="round">S</text></g><text x="172.52" y="717.93" font-size="26.76" textLength="8.05" lengthAdjust="spacingAndGlyphs" font-family='"Liberation Sans", sans-serif' font-weight="bold" font-style="normal" fill="#000" stroke="#000" stroke-width="1.6" stroke-linejoin="round">S</text><g transform="translate(1.08,0)"><text x="172.52" y="717.93" font-size="26.76" textLength="8.05" lengthAdjust="spacingAndGlyphs" font-family='"Liberation Sans", sans-serif' font-weight="bold" font-style="normal" fill="#000" stroke="#000" stroke-width="1.6" stroke-linejoin="round">S</text></g>
<g transform="translate(-1.08,0)"><text x="333.94" y="681.00" font-size="27.46" textLength="9.27" lengthAdjust="spacingAndGlyphs" font-family='"Liberation Sans", sans-serif' font-weight="bold" font-style="normal" fill="#000" stroke="#000" stroke-width="1.6" stroke-linejoin="round">R</text></g><text x="333.94" y="681.00" font-size="27.46" textLength="9.27" lengthAdjust="spacingAndGlyphs" font-family='"Liberation Sans", sans-serif' font-weight="bold" font-style="normal" fill="#000" stroke="#000" stroke-width="1.6" stroke-linejoin="round">R</text><g transform="translate(1.08,0)"><text x="333.94" y="681.00" font-size="27.46" textLength="9.27" lengthAdjust="spacingAndGlyphs" font-family='"Liberation Sans", sans-serif' font-weight="bold" font-style="normal" fill="#000" stroke="#000" stroke-width="1.6" stroke-linejoin="round">R</text></g><g transform="translate(-1.08,0)"><text x="347.38" y="681.00" font-size="27.07" textLength="8.58" lengthAdjust="spacingAndGlyphs" font-family='"Liberation Sans", sans-serif' font-weight="bold" font-style="normal" fill="#000" stroke="#000" stroke-width="1.6" stroke-linejoin="round">2</text></g><text x="347.38" y="681.00" font-size="27.07" textLength="8.58" lengthAdjust="spacingAndGlyphs" font-family='"Liberation Sans", sans-serif' font-weight="bold" font-style="normal" fill="#000" stroke="#000" stroke-width="1.6" stroke-linejoin="round">2</text><g transform="translate(1.08,0)"><text x="347.38" y="681.00" font-size="27.07" textLength="8.58" lengthAdjust="spacingAndGlyphs" font-family='"Liberation Sans", sans-serif' font-weight="bold" font-style="normal" fill="#000" stroke="#000" stroke-width="1.6" stroke-linejoin="round">2</text></g><g transform="translate(-1.08,0)"><text x="359.78" y="680.73" font-size="26.69" textLength="8.49" lengthAdjust="spacingAndGlyphs" font-family='"Liberation Sans", sans-serif' font-weight="bold" font-style="normal" fill="#000" stroke="#000" stroke-width="1.6" stroke-linejoin="round">9</text></g><text x="359.78" y="680.73" font-size="26.69" textLength="8.49" lengthAdjust="spacingAndGlyphs" font-family='"Liberation Sans", sans-serif' font-weight="bold" font-style="normal" fill="#000" stroke="#000" stroke-width="1.6" stroke-linejoin="round">9</text><g transform="translate(1.08,0)"><text x="359.78" y="680.73" font-size="26.69" textLength="8.49" lengthAdjust="spacingAndGlyphs" font-family='"Liberation Sans", sans-serif' font-weight="bold" font-style="normal" fill="#000" stroke="#000" stroke-width="1.6" stroke-linejoin="round">9</text></g>
<g transform="translate(-1.07,0)"><text x="462.99" y="732.60" font-size="27.39" textLength="9.86" lengthAdjust="spacingAndGlyphs" font-family='"Liberation Sans", sans-serif' font-weight="bold" font-style="normal" fill="#000" stroke="#000" stroke-width="1.6" stroke-linejoin="round">N</text></g><text x="462.99" y="732.60" font-size="27.39" textLength="9.86" lengthAdjust="spacingAndGlyphs" font-family='"Liberation Sans", sans-serif' font-weight="bold" font-style="normal" fill="#000" stroke="#000" stroke-width="1.6" stroke-linejoin="round">N</text><g transform="translate(1.07,0)"><text x="462.99" y="732.60" font-size="27.39" textLength="9.86" lengthAdjust="spacingAndGlyphs" font-family='"Liberation Sans", sans-serif' font-weight="bold" font-style="normal" fill="#000" stroke="#000" stroke-width="1.6" stroke-linejoin="round">N</text></g><path fill="#000" stroke="#000" stroke-width="0.80" stroke-linejoin="miter" d="M475.38,716.06 L478.21,713.30 L481.67,713.30 L481.67,733.00 L478.02,733.00 L478.02,719.21 L475.38,720.39 Z"/><g transform="translate(-1.07,0)"><text x="484.50" y="732.60" font-size="27.39" textLength="7.66" lengthAdjust="spacingAndGlyphs" font-family='"Liberation Sans", sans-serif' font-weight="bold" font-style="normal" fill="#000" stroke="#000" stroke-width="1.6" stroke-linejoin="round">7</text></g><text x="484.50" y="732.60" font-size="27.39" textLength="7.66" lengthAdjust="spacingAndGlyphs" font-family='"Liberation Sans", sans-serif' font-weight="bold" font-style="normal" fill="#000" stroke="#000" stroke-width="1.6" stroke-linejoin="round">7</text><g transform="translate(1.07,0)"><text x="484.50" y="732.60" font-size="27.39" textLength="7.66" lengthAdjust="spacingAndGlyphs" font-family='"Liberation Sans", sans-serif' font-weight="bold" font-style="normal" fill="#000" stroke="#000" stroke-width="1.6" stroke-linejoin="round">7</text></g>
<g transform="translate(-1.00,0)"><text x="978.89" y="731.60" font-size="25.22" textLength="10.10" lengthAdjust="spacingAndGlyphs" font-family='"Liberation Sans", sans-serif' font-weight="bold" font-style="normal" fill="#000" stroke="#000" stroke-width="1.6" stroke-linejoin="round">N</text></g><text x="978.89" y="731.60" font-size="25.22" textLength="10.10" lengthAdjust="spacingAndGlyphs" font-family='"Liberation Sans", sans-serif' font-weight="bold" font-style="normal" fill="#000" stroke="#000" stroke-width="1.6" stroke-linejoin="round">N</text><g transform="translate(1.00,0)"><text x="978.89" y="731.60" font-size="25.22" textLength="10.10" lengthAdjust="spacingAndGlyphs" font-family='"Liberation Sans", sans-serif' font-weight="bold" font-style="normal" fill="#000" stroke="#000" stroke-width="1.6" stroke-linejoin="round">N</text></g><path fill="#000" stroke="#000" stroke-width="0.80" stroke-linejoin="miter" d="M991.43,716.35 L994.26,713.80 L997.73,713.80 L997.73,732.00 L994.07,732.00 L994.07,719.26 L991.43,720.35 Z"/><g transform="translate(-1.00,0)"><text x="1000.47" y="731.60" font-size="25.22" textLength="7.89" lengthAdjust="spacingAndGlyphs" font-family='"Liberation Sans", sans-serif' font-weight="bold" font-style="normal" fill="#000" stroke="#000" stroke-width="1.6" stroke-linejoin="round">7</text></g><text x="1000.47" y="731.60" font-size="25.22" textLength="7.89" lengthAdjust="spacingAndGlyphs" font-family='"Liberation Sans", sans-serif' font-weight="bold" font-style="normal" fill="#000" stroke="#000" stroke-width="1.6" stroke-linejoin="round">7</text><g transform="translate(1.00,0)"><text x="1000.47" y="731.60" font-size="25.22" textLength="7.89" lengthAdjust="spacingAndGlyphs" font-family='"Liberation Sans", sans-serif' font-weight="bold" font-style="normal" fill="#000" stroke="#000" stroke-width="1.6" stroke-linejoin="round">7</text></g>
<g transform="translate(-1.08,0)"><text x="1125.53" y="731.93" font-size="26.90" textLength="7.85" lengthAdjust="spacingAndGlyphs" font-family='"Liberation Sans", sans-serif' font-weight="bold" font-style="normal" fill="#000" stroke="#000" stroke-width="1.6" stroke-linejoin="round">S</text></g><text x="1125.53" y="731.93" font-size="26.90" textLength="7.85" lengthAdjust="spacingAndGlyphs" font-family='"Liberation Sans", sans-serif' font-weight="bold" font-style="normal" fill="#000" stroke="#000" stroke-width="1.6" stroke-linejoin="round">S</text><g transform="translate(1.08,0)"><text x="1125.53" y="731.93" font-size="26.90" textLength="7.85" lengthAdjust="spacingAndGlyphs" font-family='"Liberation Sans", sans-serif' font-weight="bold" font-style="normal" fill="#000" stroke="#000" stroke-width="1.6" stroke-linejoin="round">S</text></g><g transform="translate(-1.08,0)"><text x="1137.24" y="732.20" font-size="27.68" textLength="6.67" lengthAdjust="spacingAndGlyphs" font-family='"Liberation Sans", sans-serif' font-weight="bold" font-style="normal" fill="#000" stroke="#000" stroke-width="1.6" stroke-linejoin="round">E</text></g><text x="1137.24" y="732.20" font-size="27.68" textLength="6.67" lengthAdjust="spacingAndGlyphs" font-family='"Liberation Sans", sans-serif' font-weight="bold" font-style="normal" fill="#000" stroke="#000" stroke-width="1.6" stroke-linejoin="round">E</text><g transform="translate(1.08,0)"><text x="1137.24" y="732.20" font-size="27.68" textLength="6.67" lengthAdjust="spacingAndGlyphs" font-family='"Liberation Sans", sans-serif' font-weight="bold" font-style="normal" fill="#000" stroke="#000" stroke-width="1.6" stroke-linejoin="round">E</text></g><g transform="translate(-1.08,0)"><text x="1148.04" y="731.93" font-size="26.90" textLength="8.05" lengthAdjust="spacingAndGlyphs" font-family='"Liberation Sans", sans-serif' font-weight="bold" font-style="normal" fill="#000" stroke="#000" stroke-width="1.6" stroke-linejoin="round">C</text></g><text x="1148.04" y="731.93" font-size="26.90" textLength="8.05" lengthAdjust="spacingAndGlyphs" font-family='"Liberation Sans", sans-serif' font-weight="bold" font-style="normal" fill="#000" stroke="#000" stroke-width="1.6" stroke-linejoin="round">C</text><g transform="translate(1.08,0)"><text x="1148.04" y="731.93" font-size="26.90" textLength="8.05" lengthAdjust="spacingAndGlyphs" font-family='"Liberation Sans", sans-serif' font-weight="bold" font-style="normal" fill="#000" stroke="#000" stroke-width="1.6" stroke-linejoin="round">C</text></g><g transform="translate(-1.08,0)"><text x="1159.98" y="731.93" font-size="27.29" textLength="9.07" lengthAdjust="spacingAndGlyphs" font-family='"Liberation Sans", sans-serif' font-weight="bold" font-style="normal" fill="#000" stroke="#000" stroke-width="1.6" stroke-linejoin="round">U</text></g><text x="1159.98" y="731.93" font-size="27.29" textLength="9.07" lengthAdjust="spacingAndGlyphs" font-family='"Liberation Sans", sans-serif' font-weight="bold" font-style="normal" fill="#000" stroke="#000" stroke-width="1.6" stroke-linejoin="round">U</text><g transform="translate(1.08,0)"><text x="1159.98" y="731.93" font-size="27.29" textLength="9.07" lengthAdjust="spacingAndGlyphs" font-family='"Liberation Sans", sans-serif' font-weight="bold" font-style="normal" fill="#000" stroke="#000" stroke-width="1.6" stroke-linejoin="round">U</text></g><g transform="translate(-1.08,0)"><text x="1172.33" y="732.20" font-size="27.68" textLength="9.80" lengthAdjust="spacingAndGlyphs" font-family='"Liberation Sans", sans-serif' font-weight="bold" font-style="normal" fill="#000" stroke="#000" stroke-width="1.6" stroke-linejoin="round">N</text></g><text x="1172.33" y="732.20" font-size="27.68" textLength="9.80" lengthAdjust="spacingAndGlyphs" font-family='"Liberation Sans", sans-serif' font-weight="bold" font-style="normal" fill="#000" stroke="#000" stroke-width="1.6" stroke-linejoin="round">N</text><g transform="translate(1.08,0)"><text x="1172.33" y="732.20" font-size="27.68" textLength="9.80" lengthAdjust="spacingAndGlyphs" font-family='"Liberation Sans", sans-serif' font-weight="bold" font-style="normal" fill="#000" stroke="#000" stroke-width="1.6" stroke-linejoin="round">N</text></g><g transform="translate(-1.08,0)"><text x="1185.37" y="732.20" font-size="27.68" textLength="8.85" lengthAdjust="spacingAndGlyphs" font-family='"Liberation Sans", sans-serif' font-weight="bold" font-style="normal" fill="#000" stroke="#000" stroke-width="1.6" stroke-linejoin="round">D</text></g><text x="1185.37" y="732.20" font-size="27.68" textLength="8.85" lengthAdjust="spacingAndGlyphs" font-family='"Liberation Sans", sans-serif' font-weight="bold" font-style="normal" fill="#000" stroke="#000" stroke-width="1.6" stroke-linejoin="round">D</text><g transform="translate(1.08,0)"><text x="1185.37" y="732.20" font-size="27.68" textLength="8.85" lengthAdjust="spacingAndGlyphs" font-family='"Liberation Sans", sans-serif' font-weight="bold" font-style="normal" fill="#000" stroke="#000" stroke-width="1.6" stroke-linejoin="round">D</text></g><g transform="translate(-1.08,0)"><text x="1198.32" y="732.20" font-size="27.68" textLength="9.14" lengthAdjust="spacingAndGlyphs" font-family='"Liberation Sans", sans-serif' font-weight="bold" font-style="normal" fill="#000" stroke="#000" stroke-width="1.6" stroke-linejoin="round">A</text></g><text x="1198.32" y="732.20" font-size="27.68" textLength="9.14" lengthAdjust="spacingAndGlyphs" font-family='"Liberation Sans", sans-serif' font-weight="bold" font-style="normal" fill="#000" stroke="#000" stroke-width="1.6" stroke-linejoin="round">A</text><g transform="translate(1.08,0)"><text x="1198.32" y="732.20" font-size="27.68" textLength="9.14" lengthAdjust="spacingAndGlyphs" font-family='"Liberation Sans", sans-serif' font-weight="bold" font-style="normal" fill="#000" stroke="#000" stroke-width="1.6" stroke-linejoin="round">A</text></g>
<g transform="translate(-1.14,0)"><text x="1126.67" y="827.00" font-size="29.28" textLength="8.56" lengthAdjust="spacingAndGlyphs" font-family='"Liberation Sans", sans-serif' font-weight="bold" font-style="normal" fill="#000" stroke="#000" stroke-width="1.6" stroke-linejoin="round">B</text></g><text x="1126.67" y="827.00" font-size="29.28" textLength="8.56" lengthAdjust="spacingAndGlyphs" font-family='"Liberation Sans", sans-serif' font-weight="bold" font-style="normal" fill="#000" stroke="#000" stroke-width="1.6" stroke-linejoin="round">B</text><g transform="translate(1.14,0)"><text x="1126.67" y="827.00" font-size="29.28" textLength="8.56" lengthAdjust="spacingAndGlyphs" font-family='"Liberation Sans", sans-serif' font-weight="bold" font-style="normal" fill="#000" stroke="#000" stroke-width="1.6" stroke-linejoin="round">B</text></g><g transform="translate(-1.14,0)"><text x="1139.42" y="827.00" font-size="29.28" textLength="9.06" lengthAdjust="spacingAndGlyphs" font-family='"Liberation Sans", sans-serif' font-weight="bold" font-style="normal" fill="#000" stroke="#000" stroke-width="1.6" stroke-linejoin="round">A</text></g><text x="1139.42" y="827.00" font-size="29.28" textLength="9.06" lengthAdjust="spacingAndGlyphs" font-family='"Liberation Sans", sans-serif' font-weight="bold" font-style="normal" fill="#000" stroke="#000" stroke-width="1.6" stroke-linejoin="round">A</text><g transform="translate(1.14,0)"><text x="1139.42" y="827.00" font-size="29.28" textLength="9.06" lengthAdjust="spacingAndGlyphs" font-family='"Liberation Sans", sans-serif' font-weight="bold" font-style="normal" fill="#000" stroke="#000" stroke-width="1.6" stroke-linejoin="round">A</text></g><g transform="translate(-1.14,0)"><text x="1152.56" y="827.00" font-size="29.28" textLength="6.05" lengthAdjust="spacingAndGlyphs" font-family='"Liberation Sans", sans-serif' font-weight="bold" font-style="normal" fill="#000" stroke="#000" stroke-width="1.6" stroke-linejoin="round">L</text></g><text x="1152.56" y="827.00" font-size="29.28" textLength="6.05" lengthAdjust="spacingAndGlyphs" font-family='"Liberation Sans", sans-serif' font-weight="bold" font-style="normal" fill="#000" stroke="#000" stroke-width="1.6" stroke-linejoin="round">L</text><g transform="translate(1.14,0)"><text x="1152.56" y="827.00" font-size="29.28" textLength="6.05" lengthAdjust="spacingAndGlyphs" font-family='"Liberation Sans", sans-serif' font-weight="bold" font-style="normal" fill="#000" stroke="#000" stroke-width="1.6" stroke-linejoin="round">L</text></g><g transform="translate(-1.14,0)"><text x="1162.72" y="827.00" font-size="29.28" textLength="6.11" lengthAdjust="spacingAndGlyphs" font-family='"Liberation Sans", sans-serif' font-weight="bold" font-style="normal" fill="#000" stroke="#000" stroke-width="1.6" stroke-linejoin="round">F</text></g><text x="1162.72" y="827.00" font-size="29.28" textLength="6.11" lengthAdjust="spacingAndGlyphs" font-family='"Liberation Sans", sans-serif' font-weight="bold" font-style="normal" fill="#000" stroke="#000" stroke-width="1.6" stroke-linejoin="round">F</text><g transform="translate(1.14,0)"><text x="1162.72" y="827.00" font-size="29.28" textLength="6.11" lengthAdjust="spacingAndGlyphs" font-family='"Liberation Sans", sans-serif' font-weight="bold" font-style="normal" fill="#000" stroke="#000" stroke-width="1.6" stroke-linejoin="round">F</text></g><g transform="translate(-1.14,0)"><text x="1173.11" y="826.72" font-size="28.45" textLength="8.35" lengthAdjust="spacingAndGlyphs" font-family='"Liberation Sans", sans-serif' font-weight="bold" font-style="normal" fill="#000" stroke="#000" stroke-width="1.6" stroke-linejoin="round">O</text></g><text x="1173.11" y="826.72" font-size="28.45" textLength="8.35" lengthAdjust="spacingAndGlyphs" font-family='"Liberation Sans", sans-serif' font-weight="bold" font-style="normal" fill="#000" stroke="#000" stroke-width="1.6" stroke-linejoin="round">O</text><g transform="translate(1.14,0)"><text x="1173.11" y="826.72" font-size="28.45" textLength="8.35" lengthAdjust="spacingAndGlyphs" font-family='"Liberation Sans", sans-serif' font-weight="bold" font-style="normal" fill="#000" stroke="#000" stroke-width="1.6" stroke-linejoin="round">O</text></g><g transform="translate(-1.14,0)"><text x="1185.32" y="826.71" font-size="28.86" textLength="8.98" lengthAdjust="spacingAndGlyphs" font-family='"Liberation Sans", sans-serif' font-weight="bold" font-style="normal" fill="#000" stroke="#000" stroke-width="1.6" stroke-linejoin="round">U</text></g><text x="1185.32" y="826.71" font-size="28.86" textLength="8.98" lengthAdjust="spacingAndGlyphs" font-family='"Liberation Sans", sans-serif' font-weight="bold" font-style="normal" fill="#000" stroke="#000" stroke-width="1.6" stroke-linejoin="round">U</text><g transform="translate(1.14,0)"><text x="1185.32" y="826.71" font-size="28.86" textLength="8.98" lengthAdjust="spacingAndGlyphs" font-family='"Liberation Sans", sans-serif' font-weight="bold" font-style="normal" fill="#000" stroke="#000" stroke-width="1.6" stroke-linejoin="round">U</text></g><g transform="translate(-1.14,0)"><text x="1197.83" y="827.00" font-size="29.28" textLength="8.49" lengthAdjust="spacingAndGlyphs" font-family='"Liberation Sans", sans-serif' font-weight="bold" font-style="normal" fill="#000" stroke="#000" stroke-width="1.6" stroke-linejoin="round">R</text></g><text x="1197.83" y="827.00" font-size="29.28" textLength="8.49" lengthAdjust="spacingAndGlyphs" font-family='"Liberation Sans", sans-serif' font-weight="bold" font-style="normal" fill="#000" stroke="#000" stroke-width="1.6" stroke-linejoin="round">R</text><g transform="translate(1.14,0)"><text x="1197.83" y="827.00" font-size="29.28" textLength="8.49" lengthAdjust="spacingAndGlyphs" font-family='"Liberation Sans", sans-serif' font-weight="bold" font-style="normal" fill="#000" stroke="#000" stroke-width="1.6" stroke-linejoin="round">R</text></g>
<g transform="translate(-1.10,0)"><text x="508.90" y="883.60" font-size="28.12" textLength="10.04" lengthAdjust="spacingAndGlyphs" font-family='"Liberation Sans", sans-serif' font-weight="bold" font-style="normal" fill="#000" stroke="#000" stroke-width="1.6" stroke-linejoin="round">N</text></g><text x="508.90" y="883.60" font-size="28.12" textLength="10.04" lengthAdjust="spacingAndGlyphs" font-family='"Liberation Sans", sans-serif' font-weight="bold" font-style="normal" fill="#000" stroke="#000" stroke-width="1.6" stroke-linejoin="round">N</text><g transform="translate(1.10,0)"><text x="508.90" y="883.60" font-size="28.12" textLength="10.04" lengthAdjust="spacingAndGlyphs" font-family='"Liberation Sans", sans-serif' font-weight="bold" font-style="normal" fill="#000" stroke="#000" stroke-width="1.6" stroke-linejoin="round">N</text></g><g transform="translate(-1.10,0)"><text x="522.45" y="883.60" font-size="28.12" textLength="2.38" lengthAdjust="spacingAndGlyphs" font-family='"Liberation Sans", sans-serif' font-weight="bold" font-style="normal" fill="#000" stroke="#000" stroke-width="1.6" stroke-linejoin="round">I</text></g><text x="522.45" y="883.60" font-size="28.12" textLength="2.38" lengthAdjust="spacingAndGlyphs" font-family='"Liberation Sans", sans-serif' font-weight="bold" font-style="normal" fill="#000" stroke="#000" stroke-width="1.6" stroke-linejoin="round">I</text><g transform="translate(1.10,0)"><text x="522.45" y="883.60" font-size="28.12" textLength="2.38" lengthAdjust="spacingAndGlyphs" font-family='"Liberation Sans", sans-serif' font-weight="bold" font-style="normal" fill="#000" stroke="#000" stroke-width="1.6" stroke-linejoin="round">I</text></g><g transform="translate(-1.10,0)"><text x="528.79" y="883.33" font-size="27.32" textLength="8.90" lengthAdjust="spacingAndGlyphs" font-family='"Liberation Sans", sans-serif' font-weight="bold" font-style="normal" fill="#000" stroke="#000" stroke-width="1.6" stroke-linejoin="round">G</text></g><text x="528.79" y="883.33" font-size="27.32" textLength="8.90" lengthAdjust="spacingAndGlyphs" font-family='"Liberation Sans", sans-serif' font-weight="bold" font-style="normal" fill="#000" stroke="#000" stroke-width="1.6" stroke-linejoin="round">G</text><g transform="translate(1.10,0)"><text x="528.79" y="883.33" font-size="27.32" textLength="8.90" lengthAdjust="spacingAndGlyphs" font-family='"Liberation Sans", sans-serif' font-weight="bold" font-style="normal" fill="#000" stroke="#000" stroke-width="1.6" stroke-linejoin="round">G</text></g><g transform="translate(-1.10,0)"><text x="541.30" y="883.60" font-size="28.12" textLength="6.85" lengthAdjust="spacingAndGlyphs" font-family='"Liberation Sans", sans-serif' font-weight="bold" font-style="normal" fill="#000" stroke="#000" stroke-width="1.6" stroke-linejoin="round">E</text></g><text x="541.30" y="883.60" font-size="28.12" textLength="6.85" lengthAdjust="spacingAndGlyphs" font-family='"Liberation Sans", sans-serif' font-weight="bold" font-style="normal" fill="#000" stroke="#000" stroke-width="1.6" stroke-linejoin="round">E</text><g transform="translate(1.10,0)"><text x="541.30" y="883.60" font-size="28.12" textLength="6.85" lengthAdjust="spacingAndGlyphs" font-family='"Liberation Sans", sans-serif' font-weight="bold" font-style="normal" fill="#000" stroke="#000" stroke-width="1.6" stroke-linejoin="round">E</text></g><g transform="translate(-1.10,0)"><text x="552.10" y="883.60" font-size="28.12" textLength="6.31" lengthAdjust="spacingAndGlyphs" font-family='"Liberation Sans", sans-serif' font-weight="bold" font-style="normal" fill="#000" stroke="#000" stroke-width="1.6" stroke-linejoin="round">L</text></g><text x="552.10" y="883.60" font-size="28.12" textLength="6.31" lengthAdjust="spacingAndGlyphs" font-family='"Liberation Sans", sans-serif' font-weight="bold" font-style="normal" fill="#000" stroke="#000" stroke-width="1.6" stroke-linejoin="round">L</text><g transform="translate(1.10,0)"><text x="552.10" y="883.60" font-size="28.12" textLength="6.31" lengthAdjust="spacingAndGlyphs" font-family='"Liberation Sans", sans-serif' font-weight="bold" font-style="normal" fill="#000" stroke="#000" stroke-width="1.6" stroke-linejoin="round">L</text></g>
<path d="M772.5,174.5 L772.5,204" stroke="#e61e26" stroke-width="5" stroke-linecap="round"/>
<path d="M759,203.1 L786,203.1 L772.4,215.8 Z" fill="#e61e26" stroke="#e61e26" stroke-width="1.2" stroke-linejoin="round"/>
<path d="M731.5,420 L753,398.5" stroke="#e61e26" stroke-width="4.6" stroke-linecap="round"/>
<path d="M741.8,390.8 L761,390.8 L761,410 Z" fill="#e61e26" stroke="#e61e26" stroke-width="1.2" stroke-linejoin="round"/>
<path d="M663.2,277.2 L692.3,306.6 M692.3,277.2 L663.2,306.6" stroke="#e61e26" stroke-width="4.3" stroke-linecap="round"/>
<path d="M963.2,213.2 L982.7,232.6 M982.7,213.2 L963.2,232.6" stroke="#de2a2c" stroke-width="3.1" stroke-linecap="round"/>
</svg>
</body></html>
